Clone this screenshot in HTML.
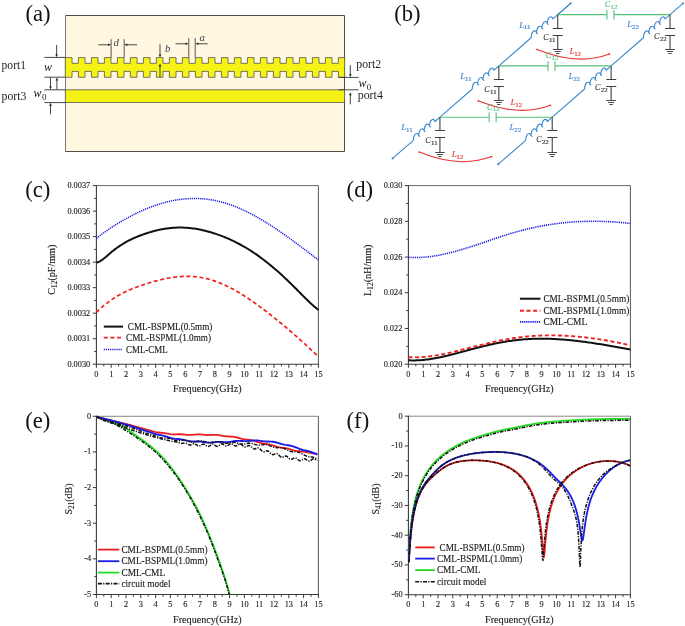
<!DOCTYPE html>
<html><head><meta charset="utf-8"><style>
html,body{margin:0;padding:0;background:#fff;}
svg{display:block;font-family:"Liberation Serif", serif;will-change:transform;}
</style></head><body>
<svg width="685" height="626" viewBox="0 0 685 626">
<rect width="685" height="626" fill="#fff"/>
<text x="25.4" y="21.4" font-size="23.4" fill="#111" textLength="25.2" lengthAdjust="spacingAndGlyphs">(a)</text>
<rect x="65.5" y="15.5" width="279" height="136" fill="#fff7e0" stroke="none"/>
<path d="M65.5,15.5 H344.5 V151.5 H65.5" fill="none" stroke="#4c4c48" stroke-width="1"/>
<path d="M65.5,15.5 V151.5" fill="none" stroke="#7a7a74" stroke-width="1"/>
<path d="M65.3,57.6 H72 V63.3 H78.4 V57.6 H85 V63.3 H91.4 V57.6 H98 V63.3 H104.4 V57.6 H111 V63.3 H117.4 V57.6 H124 V63.3 H130.4 V57.6 H137 V63.3 H143.4 V57.6 H150 V63.3 H156.4 V57.6 H163 V63.3 H169.4 V57.6 H176 V63.3 H182.4 V57.6 H189 V63.3 H195.4 V57.6 H202 V63.3 H208.4 V57.6 H215 V63.3 H221.4 V57.6 H228 V63.3 H234.4 V57.6 H241 V63.3 H247.4 V57.6 H254 V63.3 H260.4 V57.6 H267 V63.3 H273.4 V57.6 H280 V63.3 H286.4 V57.6 H293 V63.3 H299.4 V57.6 H306 V63.3 H312.4 V57.6 H319 V63.3 H325.4 V57.6 H332 V63.3 H338.4 V57.6 H344.7 V77.3 H338.4 V71.4 H332 V77.3 H325.4 V71.4 H319 V77.3 H312.4 V71.4 H306 V77.3 H299.4 V71.4 H293 V77.3 H286.4 V71.4 H280 V77.3 H273.4 V71.4 H267 V77.3 H260.4 V71.4 H254 V77.3 H247.4 V71.4 H241 V77.3 H234.4 V71.4 H228 V77.3 H221.4 V71.4 H215 V77.3 H208.4 V71.4 H202 V77.3 H195.4 V71.4 H189 V77.3 H182.4 V71.4 H176 V77.3 H169.4 V71.4 H163 V77.3 H156.4 V71.4 H150 V77.3 H143.4 V71.4 H137 V77.3 H130.4 V71.4 H124 V77.3 H117.4 V71.4 H111 V77.3 H104.4 V71.4 H98 V77.3 H91.4 V71.4 H85 V77.3 H78.4 V71.4 H72 V77.3 H65.3 Z" fill="#f6f216" stroke="#555" stroke-width="0.8"/>
<rect x="65.3" y="89.8" width="279.4" height="12.8" fill="#f6f216" stroke="#555" stroke-width="0.8"/>
<path d="M44.4,57.4 H65.3 M44.4,77.2 H65.3 M44.4,89.8 H65.3 M44.4,102.6 H65.3" stroke="#333" stroke-width="0.9" fill="none"/>
<path d="M338.4,77.4 H358.7 M338.4,89.8 H358.7" stroke="#333" stroke-width="0.9" fill="none"/>
<path d="M56.6,45 V55" stroke="#333" stroke-width="0.9" fill="none"/>
<path d="M55.3,54.2 L57.9,54.2 L56.6,57.2 Z" fill="#222"/>
<path d="M50.5,77.4 V87.3" stroke="#333" stroke-width="0.9" fill="none"/>
<path d="M49.2,86.5 L51.8,86.5 L50.5,89.5 Z" fill="#222"/>
<path d="M56.9,89.5 V79.7" stroke="#333" stroke-width="0.9" fill="none"/>
<path d="M55.6,80.5 L58.2,80.5 L56.9,77.5 Z" fill="#222"/>
<path d="M50.5,114.4 V105" stroke="#333" stroke-width="0.9" fill="none"/>
<path d="M49.2,105.8 L51.8,105.8 L50.5,102.8 Z" fill="#222"/>
<path d="M350.3,65.1 V75" stroke="#333" stroke-width="0.9" fill="none"/>
<path d="M349,74.2 L351.6,74.2 L350.3,77.2 Z" fill="#222"/>
<path d="M350.3,104.4 V94.5" stroke="#333" stroke-width="0.9" fill="none"/>
<path d="M349,95.3 L351.6,95.3 L350.3,92.3 Z" fill="#222"/>
<path d="M111.1,39.2 V57.6 M124.2,39.2 V57.6 M188.8,38.1 V57.6 M195.2,38.1 V57.6" stroke="#444" stroke-width="0.9" fill="none"/>
<path d="M98.3,44.8 H108.8" stroke="#333" stroke-width="0.9" fill="none"/>
<path d="M108,43.5 L108,46.1 L111,44.8 Z" fill="#222"/>
<path d="M137,44.8 H126.5" stroke="#333" stroke-width="0.9" fill="none"/>
<path d="M127.3,43.5 L127.3,46.1 L124.3,44.8 Z" fill="#222"/>
<path d="M175.6,43.8 H186.5" stroke="#333" stroke-width="0.9" fill="none"/>
<path d="M185.7,42.5 L185.7,45.1 L188.7,43.8 Z" fill="#222"/>
<path d="M207.7,43.8 H197.5" stroke="#333" stroke-width="0.9" fill="none"/>
<path d="M198.3,42.5 L198.3,45.1 L195.3,43.8 Z" fill="#222"/>
<path d="M160,44.3 V55.4" stroke="#333" stroke-width="0.9" fill="none"/>
<path d="M158.7,54.6 L161.3,54.6 L160,57.6 Z" fill="#222"/>
<path d="M160,77.2 V65.6" stroke="#333" stroke-width="0.9" fill="none"/>
<path d="M158.7,66.4 L161.3,66.4 L160,63.4 Z" fill="#222"/>
<text x="113.5" y="45.6" font-size="10.8" text-anchor="start" fill="#36405a" font-style="italic" style="">d</text>
<text x="165" y="51.8" font-size="10.8" text-anchor="start" fill="#36405a" font-style="italic" style="">b</text>
<text x="199.6" y="40.9" font-size="10.8" text-anchor="start" fill="#36405a" font-style="italic" style="">a</text>
<text x="1.6" y="69.4" font-size="12.6" text-anchor="start" fill="#1e1e1e" textLength="24.4" lengthAdjust="spacingAndGlyphs"  style="">port1</text>
<text x="1.6" y="99.8" font-size="12.6" text-anchor="start" fill="#1e1e1e" textLength="24.8" lengthAdjust="spacingAndGlyphs"  style="">port3</text>
<text x="356.3" y="68.3" font-size="12.6" text-anchor="start" fill="#1e1e1e" textLength="24.8" lengthAdjust="spacingAndGlyphs"  style="">port2</text>
<text x="357.7" y="98.7" font-size="12.6" text-anchor="start" fill="#1e1e1e" textLength="25.2" lengthAdjust="spacingAndGlyphs"  style="">port4</text>
<text x="44.0" y="71.0" font-size="12" font-style="italic" fill="#222" textLength="8.0" lengthAdjust="spacingAndGlyphs">w</text>
<text x="33.6" y="97.0" font-size="12" font-style="italic" fill="#222">w<tspan font-size="9" font-style="normal" dx="0.3" dy="2.6">0</tspan></text>
<text x="358.4" y="87.2" font-size="12" font-style="italic" fill="#222">w<tspan font-size="9" font-style="normal" dx="0.3" dy="2.4">0</tspan></text>
<text x="394.3" y="21.4" font-size="23.4" fill="#111" textLength="26.3" lengthAdjust="spacingAndGlyphs">(b)</text>
<path d="M570.7,3.3 L557.73,14.6" stroke="#3b87cf" stroke-width="1.1" fill="none"/>
<path d="M570.7,3.3 L557.73,14.6 M557.73,14.6 L552.75,18.93 C551.85,14.93 547.46,16.63 547.36,23.63 l0.8,0.7 l-0.8,-0.7 C546.46,19.63 542.07,21.33 541.97,28.33 l0.8,0.7 l-0.8,-0.7 C541.07,24.33 536.67,26.02 536.57,33.02 l0.8,0.7 l-0.8,-0.7 C535.67,29.02 531.28,30.72 531.18,37.72 M531.18,37.72 L498.83,65.9 M498.83,65.9 L493.85,70.23 C492.95,66.23 488.56,67.93 488.46,74.93 l0.8,0.7 l-0.8,-0.7 C487.56,70.93 483.17,72.63 483.07,79.63 l0.8,0.7 l-0.8,-0.7 C482.17,75.63 477.78,77.32 477.68,84.32 l0.8,0.7 l-0.8,-0.7 C476.78,80.32 472.39,82.02 472.29,89.02 M472.29,89.02 L439.93,117.2 M439.93,117.2 L434.95,121.53 C434.05,117.53 429.66,119.23 429.56,126.23 l0.8,0.7 l-0.8,-0.7 C428.66,122.23 424.27,123.93 424.17,130.93 l0.8,0.7 l-0.8,-0.7 C423.27,126.93 418.88,128.62 418.78,135.62 l0.8,0.7 l-0.8,-0.7 C417.88,131.62 413.49,133.32 413.39,140.32 M413.39,140.32 L392.63,158.4" stroke="#3b87cf" stroke-width="1.1" fill="none" stroke-linejoin="round"/>
<circle cx="570.7" cy="3.3" r="1.1" fill="#3b87cf"/><circle cx="392.63" cy="158.4" r="1.1" fill="#3b87cf"/>
<path d="M683,3.3 L670.03,14.6 M670.03,14.6 L665.05,18.93 C664.15,14.93 659.76,16.63 659.66,23.63 l0.8,0.7 l-0.8,-0.7 C658.76,19.63 654.37,21.33 654.27,28.33 l0.8,0.7 l-0.8,-0.7 C653.37,24.33 648.97,26.02 648.87,33.02 l0.8,0.7 l-0.8,-0.7 C647.97,29.02 643.58,30.72 643.48,37.72 M643.48,37.72 L611.13,65.9 M611.13,65.9 L606.15,70.23 C605.25,66.23 600.86,67.93 600.76,74.93 l0.8,0.7 l-0.8,-0.7 C599.86,70.93 595.47,72.63 595.37,79.63 l0.8,0.7 l-0.8,-0.7 C594.47,75.63 590.08,77.32 589.98,84.32 l0.8,0.7 l-0.8,-0.7 C589.08,80.32 584.69,82.02 584.59,89.02 M584.59,89.02 L552.23,117.2 M552.23,117.2 L547.25,121.53 C546.35,117.53 541.96,119.23 541.86,126.23 l0.8,0.7 l-0.8,-0.7 C540.96,122.23 536.57,123.93 536.47,130.93 l0.8,0.7 l-0.8,-0.7 C535.57,126.93 531.18,128.62 531.08,135.62 l0.8,0.7 l-0.8,-0.7 C530.18,131.62 525.79,133.32 525.69,140.32 M525.69,140.32 L498.27,164.2" stroke="#3b87cf" stroke-width="1.1" fill="none" stroke-linejoin="round"/>
<circle cx="683" cy="3.3" r="1.1" fill="#3b87cf"/><circle cx="498.27" cy="164.2" r="1.1" fill="#3b87cf"/>
<path d="M557.73,14.6 H606.93 M613.93,14.6 H670.03 M606.93,10 V19.6 M613.93,10 V19.6" stroke="#55c27a" stroke-width="1.1" fill="none"/>
<path d="M557.73,14.6 V28.5 M552.83,28.5 H562.83 M552.83,35.5 H562.83 M557.73,35.5 V49.5" stroke="#404040" stroke-width="1.1" fill="none"/>
<path d="M552.93,49.5 H562.53 M554.73,51.5 H560.73 M556.03,53.5 H559.43" stroke="#333" stroke-width="0.9" fill="none"/>
<path d="M670.03,14.6 V28.5 M665.13,28.5 H675.13 M665.13,35.5 H675.13 M670.03,35.5 V49.5" stroke="#404040" stroke-width="1.1" fill="none"/>
<path d="M665.23,49.5 H674.83 M667.03,51.5 H673.03 M668.33,53.5 H671.73" stroke="#333" stroke-width="0.9" fill="none"/>
<path d="M537.13,49.5 Q577.73,66.1 609.33,54" stroke="#e83530" stroke-width="1.1" fill="none"/>
<circle cx="537.13" cy="49.5" r="0.9" fill="#e83530"/><circle cx="609.33" cy="54" r="0.9" fill="#e83530"/>
<text x="519.13" y="27.5" font-size="9.0" font-style="italic" fill="#3b87cf" stroke="#3b87cf" stroke-width="0.1">L<tspan font-size="6.9" font-style="normal" dx="-0.3" dy="1.9" stroke-width="0.18">11</tspan></text>
<text x="543.13" y="40.3" font-size="8.2" font-style="italic" fill="#333" stroke="#333" stroke-width="0.1">C<tspan font-size="6.9" font-style="normal" dx="0.3" dy="1.9" stroke-width="0.18">11</tspan></text>
<text x="604.73" y="6.9" font-size="8.2" font-style="italic" fill="#55c27a" stroke="#55c27a" stroke-width="0.1">C<tspan font-size="6.9" font-style="normal" dx="0.3" dy="1.9" stroke-width="0.18">12</tspan></text>
<text x="569.43" y="54" font-size="9.0" font-style="italic" fill="#e83530" stroke="#e83530" stroke-width="0.1">L<tspan font-size="6.9" font-style="normal" dx="-0.3" dy="1.9" stroke-width="0.18">12</tspan></text>
<text x="627.33" y="27.4" font-size="9.0" font-style="italic" fill="#3b87cf" stroke="#3b87cf" stroke-width="0.1">L<tspan font-size="6.9" font-style="normal" dx="-0.3" dy="1.9" stroke-width="0.18">22</tspan></text>
<text x="653.93" y="39.1" font-size="8.2" font-style="italic" fill="#333" stroke="#333" stroke-width="0.1">C<tspan font-size="6.9" font-style="normal" dx="0.3" dy="1.9" stroke-width="0.18">22</tspan></text>
<path d="M498.83,65.9 H548.03 M555.03,65.9 H611.13 M548.03,61.3 V70.9 M555.03,61.3 V70.9" stroke="#55c27a" stroke-width="1.1" fill="none"/>
<path d="M498.83,65.9 V79.5 M493.93,79.5 H503.93 M493.93,86.5 H503.93 M498.83,86.5 V100.5" stroke="#404040" stroke-width="1.1" fill="none"/>
<path d="M494.03,100.5 H503.63 M495.83,102.5 H501.83 M497.13,104.5 H500.53" stroke="#333" stroke-width="0.9" fill="none"/>
<path d="M611.13,65.9 V79.5 M606.23,79.5 H616.23 M606.23,86.5 H616.23 M611.13,86.5 V100.5" stroke="#404040" stroke-width="1.1" fill="none"/>
<path d="M606.33,100.5 H615.93 M608.13,102.5 H614.13 M609.43,104.5 H612.83" stroke="#333" stroke-width="0.9" fill="none"/>
<path d="M478.23,100.8 Q518.83,117.4 550.43,105.3" stroke="#e83530" stroke-width="1.1" fill="none"/>
<circle cx="478.23" cy="100.8" r="0.9" fill="#e83530"/><circle cx="550.43" cy="105.3" r="0.9" fill="#e83530"/>
<text x="460.23" y="78.8" font-size="9.0" font-style="italic" fill="#3b87cf" stroke="#3b87cf" stroke-width="0.1">L<tspan font-size="6.9" font-style="normal" dx="-0.3" dy="1.9" stroke-width="0.18">11</tspan></text>
<text x="484.23" y="91.6" font-size="8.2" font-style="italic" fill="#333" stroke="#333" stroke-width="0.1">C<tspan font-size="6.9" font-style="normal" dx="0.3" dy="1.9" stroke-width="0.18">11</tspan></text>
<text x="545.83" y="58.2" font-size="8.2" font-style="italic" fill="#55c27a" stroke="#55c27a" stroke-width="0.1">C<tspan font-size="6.9" font-style="normal" dx="0.3" dy="1.9" stroke-width="0.18">12</tspan></text>
<text x="510.53" y="105.3" font-size="9.0" font-style="italic" fill="#e83530" stroke="#e83530" stroke-width="0.1">L<tspan font-size="6.9" font-style="normal" dx="-0.3" dy="1.9" stroke-width="0.18">12</tspan></text>
<text x="568.43" y="78.7" font-size="9.0" font-style="italic" fill="#3b87cf" stroke="#3b87cf" stroke-width="0.1">L<tspan font-size="6.9" font-style="normal" dx="-0.3" dy="1.9" stroke-width="0.18">22</tspan></text>
<text x="595.03" y="90.4" font-size="8.2" font-style="italic" fill="#333" stroke="#333" stroke-width="0.1">C<tspan font-size="6.9" font-style="normal" dx="0.3" dy="1.9" stroke-width="0.18">22</tspan></text>
<path d="M439.93,117.2 H489.13 M496.13,117.2 H552.23 M489.13,112.6 V122.2 M496.13,112.6 V122.2" stroke="#55c27a" stroke-width="1.1" fill="none"/>
<path d="M439.93,117.2 V130.5 M435.03,130.5 H445.03 M435.03,137.5 H445.03 M439.93,137.5 V152.5" stroke="#404040" stroke-width="1.1" fill="none"/>
<path d="M435.13,152.5 H444.73 M436.93,154.5 H442.93 M438.23,156.5 H441.63" stroke="#333" stroke-width="0.9" fill="none"/>
<path d="M552.23,117.2 V130.5 M547.33,130.5 H557.33 M547.33,137.5 H557.33 M552.23,137.5 V152.5" stroke="#404040" stroke-width="1.1" fill="none"/>
<path d="M547.43,152.5 H557.03 M549.23,154.5 H555.23 M550.53,156.5 H553.93" stroke="#333" stroke-width="0.9" fill="none"/>
<path d="M419.33,152.1 Q459.93,168.7 491.53,156.6" stroke="#e83530" stroke-width="1.1" fill="none"/>
<circle cx="419.33" cy="152.1" r="0.9" fill="#e83530"/><circle cx="491.53" cy="156.6" r="0.9" fill="#e83530"/>
<text x="401.33" y="130.1" font-size="9.0" font-style="italic" fill="#3b87cf" stroke="#3b87cf" stroke-width="0.1">L<tspan font-size="6.9" font-style="normal" dx="-0.3" dy="1.9" stroke-width="0.18">11</tspan></text>
<text x="425.33" y="142.9" font-size="8.2" font-style="italic" fill="#333" stroke="#333" stroke-width="0.1">C<tspan font-size="6.9" font-style="normal" dx="0.3" dy="1.9" stroke-width="0.18">11</tspan></text>
<text x="486.93" y="109.5" font-size="8.2" font-style="italic" fill="#55c27a" stroke="#55c27a" stroke-width="0.1">C<tspan font-size="6.9" font-style="normal" dx="0.3" dy="1.9" stroke-width="0.18">12</tspan></text>
<text x="451.63" y="156.6" font-size="9.0" font-style="italic" fill="#e83530" stroke="#e83530" stroke-width="0.1">L<tspan font-size="6.9" font-style="normal" dx="-0.3" dy="1.9" stroke-width="0.18">12</tspan></text>
<text x="509.53" y="130" font-size="9.0" font-style="italic" fill="#3b87cf" stroke="#3b87cf" stroke-width="0.1">L<tspan font-size="6.9" font-style="normal" dx="-0.3" dy="1.9" stroke-width="0.18">22</tspan></text>
<text x="536.13" y="141.7" font-size="8.2" font-style="italic" fill="#333" stroke="#333" stroke-width="0.1">C<tspan font-size="6.9" font-style="normal" dx="0.3" dy="1.9" stroke-width="0.18">22</tspan></text>
<text x="25.2" y="196.8" font-size="23.4" fill="#111" textLength="25.2" lengthAdjust="spacingAndGlyphs">(c)</text>
<text x="346.6" y="196.8" font-size="23.4" fill="#111" textLength="26.4" lengthAdjust="spacingAndGlyphs">(d)</text>
<text x="25.2" y="427.6" font-size="23.4" fill="#111" textLength="25.2" lengthAdjust="spacingAndGlyphs">(e)</text>
<text x="346.6" y="427.6" font-size="23.4" fill="#111" textLength="22.6" lengthAdjust="spacingAndGlyphs">(f)</text>
<path d="M96.4,364.2 V367.8 M111.2,364.2 V367.8 M126,364.2 V367.8 M140.8,364.2 V367.8 M155.6,364.2 V367.8 M170.4,364.2 V367.8 M185.2,364.2 V367.8 M200,364.2 V367.8 M214.8,364.2 V367.8 M229.6,364.2 V367.8 M244.4,364.2 V367.8 M259.2,364.2 V367.8 M274,364.2 V367.8 M288.8,364.2 V367.8 M303.6,364.2 V367.8 M318.4,364.2 V367.8 M103.8,364.2 V366.4 M118.6,364.2 V366.4 M133.4,364.2 V366.4 M148.2,364.2 V366.4 M163,364.2 V366.4 M177.8,364.2 V366.4 M192.6,364.2 V366.4 M207.4,364.2 V366.4 M222.2,364.2 V366.4 M237,364.2 V366.4 M251.8,364.2 V366.4 M266.6,364.2 V366.4 M281.4,364.2 V366.4 M296.2,364.2 V366.4 M311,364.2 V366.4 M96.4,185.6 H92.8 M96.4,211.11 H92.8 M96.4,236.63 H92.8 M96.4,262.14 H92.8 M96.4,287.66 H92.8 M96.4,313.17 H92.8 M96.4,338.69 H92.8 M96.4,364.2 H92.8 M96.4,198.36 H94.2 M96.4,223.87 H94.2 M96.4,249.39 H94.2 M96.4,274.9 H94.2 M96.4,300.41 H94.2 M96.4,325.93 H94.2 M96.4,351.44 H94.2" stroke="#3a3a3a" stroke-width="1" fill="none"/>
<path d="M96.4,185.6 H318.4" stroke="#666" stroke-width="1"/>
<path d="M318.4,185.6 V364.2" stroke="#555" stroke-width="1"/>
<path d="M96.4,185.1 V364.7 M95.9,364.2 H318.9" stroke="#3a3a3a" stroke-width="1.1" fill="none"/>
<text x="96.4" y="376.7" font-size="9.0" text-anchor="middle" fill="#222" textLength="4.15" lengthAdjust="spacingAndGlyphs" stroke="#222" stroke-width="0.14" style="">0</text>
<text x="111.2" y="376.7" font-size="9.0" text-anchor="middle" fill="#222" textLength="4.15" lengthAdjust="spacingAndGlyphs" stroke="#222" stroke-width="0.14" style="">1</text>
<text x="126" y="376.7" font-size="9.0" text-anchor="middle" fill="#222" textLength="4.15" lengthAdjust="spacingAndGlyphs" stroke="#222" stroke-width="0.14" style="">2</text>
<text x="140.8" y="376.7" font-size="9.0" text-anchor="middle" fill="#222" textLength="4.15" lengthAdjust="spacingAndGlyphs" stroke="#222" stroke-width="0.14" style="">3</text>
<text x="155.6" y="376.7" font-size="9.0" text-anchor="middle" fill="#222" textLength="4.15" lengthAdjust="spacingAndGlyphs" stroke="#222" stroke-width="0.14" style="">4</text>
<text x="170.4" y="376.7" font-size="9.0" text-anchor="middle" fill="#222" textLength="4.15" lengthAdjust="spacingAndGlyphs" stroke="#222" stroke-width="0.14" style="">5</text>
<text x="185.2" y="376.7" font-size="9.0" text-anchor="middle" fill="#222" textLength="4.15" lengthAdjust="spacingAndGlyphs" stroke="#222" stroke-width="0.14" style="">6</text>
<text x="200" y="376.7" font-size="9.0" text-anchor="middle" fill="#222" textLength="4.15" lengthAdjust="spacingAndGlyphs" stroke="#222" stroke-width="0.14" style="">7</text>
<text x="214.8" y="376.7" font-size="9.0" text-anchor="middle" fill="#222" textLength="4.15" lengthAdjust="spacingAndGlyphs" stroke="#222" stroke-width="0.14" style="">8</text>
<text x="229.6" y="376.7" font-size="9.0" text-anchor="middle" fill="#222" textLength="4.15" lengthAdjust="spacingAndGlyphs" stroke="#222" stroke-width="0.14" style="">9</text>
<text x="244.4" y="376.7" font-size="9.0" text-anchor="middle" fill="#222" textLength="8.3" lengthAdjust="spacingAndGlyphs" stroke="#222" stroke-width="0.14" style="">10</text>
<text x="259.2" y="376.7" font-size="9.0" text-anchor="middle" fill="#222" textLength="7.992640625000001" lengthAdjust="spacingAndGlyphs" stroke="#222" stroke-width="0.14" style="">11</text>
<text x="274" y="376.7" font-size="9.0" text-anchor="middle" fill="#222" textLength="8.3" lengthAdjust="spacingAndGlyphs" stroke="#222" stroke-width="0.14" style="">12</text>
<text x="288.8" y="376.7" font-size="9.0" text-anchor="middle" fill="#222" textLength="8.3" lengthAdjust="spacingAndGlyphs" stroke="#222" stroke-width="0.14" style="">13</text>
<text x="303.6" y="376.7" font-size="9.0" text-anchor="middle" fill="#222" textLength="8.3" lengthAdjust="spacingAndGlyphs" stroke="#222" stroke-width="0.14" style="">14</text>
<text x="318.4" y="376.7" font-size="9.0" text-anchor="middle" fill="#222" textLength="8.3" lengthAdjust="spacingAndGlyphs" stroke="#222" stroke-width="0.14" style="">15</text>
<text x="90.2" y="188.1" font-size="9.0" text-anchor="end" fill="#222" textLength="22.825000000000003" lengthAdjust="spacingAndGlyphs" stroke="#222" stroke-width="0.14" style="">0.0037</text>
<text x="90.2" y="213.61" font-size="9.0" text-anchor="end" fill="#222" textLength="22.825000000000003" lengthAdjust="spacingAndGlyphs" stroke="#222" stroke-width="0.14" style="">0.0036</text>
<text x="90.2" y="239.13" font-size="9.0" text-anchor="end" fill="#222" textLength="22.825000000000003" lengthAdjust="spacingAndGlyphs" stroke="#222" stroke-width="0.14" style="">0.0035</text>
<text x="90.2" y="264.64" font-size="9.0" text-anchor="end" fill="#222" textLength="22.825000000000003" lengthAdjust="spacingAndGlyphs" stroke="#222" stroke-width="0.14" style="">0.0034</text>
<text x="90.2" y="290.16" font-size="9.0" text-anchor="end" fill="#222" textLength="22.825000000000003" lengthAdjust="spacingAndGlyphs" stroke="#222" stroke-width="0.14" style="">0.0033</text>
<text x="90.2" y="315.67" font-size="9.0" text-anchor="end" fill="#222" textLength="22.825000000000003" lengthAdjust="spacingAndGlyphs" stroke="#222" stroke-width="0.14" style="">0.0032</text>
<text x="90.2" y="341.19" font-size="9.0" text-anchor="end" fill="#222" textLength="22.825000000000003" lengthAdjust="spacingAndGlyphs" stroke="#222" stroke-width="0.14" style="">0.0031</text>
<text x="90.2" y="366.7" font-size="9.0" text-anchor="end" fill="#222" textLength="22.825000000000003" lengthAdjust="spacingAndGlyphs" stroke="#222" stroke-width="0.14" style="">0.0030</text>
<text x="207.4" y="392.4" font-size="10.4" text-anchor="middle" fill="#1a1a1a" textLength="68.7" lengthAdjust="spacingAndGlyphs" stroke="#1a1a1a" stroke-width="0.12" style="">Frequency(GHz)</text>
<text transform="translate(55.2,269.7) rotate(-90)" x="0" y="0" font-size="10.2" text-anchor="middle" fill="#1a1a1a" stroke="#1a1a1a" stroke-width="0.12" textLength="50.2" lengthAdjust="spacingAndGlyphs">C<tspan font-size="7.34" dy="2.2">12</tspan><tspan dy="-2.2">(pF/mm)</tspan></text>
<path d="M408.4,364.2 V367.8 M423.2,364.2 V367.8 M438,364.2 V367.8 M452.8,364.2 V367.8 M467.6,364.2 V367.8 M482.4,364.2 V367.8 M497.2,364.2 V367.8 M512,364.2 V367.8 M526.8,364.2 V367.8 M541.6,364.2 V367.8 M556.4,364.2 V367.8 M571.2,364.2 V367.8 M586,364.2 V367.8 M600.8,364.2 V367.8 M615.6,364.2 V367.8 M630.4,364.2 V367.8 M415.8,364.2 V366.4 M430.6,364.2 V366.4 M445.4,364.2 V366.4 M460.2,364.2 V366.4 M475,364.2 V366.4 M489.8,364.2 V366.4 M504.6,364.2 V366.4 M519.4,364.2 V366.4 M534.2,364.2 V366.4 M549,364.2 V366.4 M563.8,364.2 V366.4 M578.6,364.2 V366.4 M593.4,364.2 V366.4 M608.2,364.2 V366.4 M623,364.2 V366.4 M408.4,185.6 H404.8 M408.4,221.32 H404.8 M408.4,257.04 H404.8 M408.4,292.76 H404.8 M408.4,328.48 H404.8 M408.4,364.2 H404.8 M408.4,203.46 H406.2 M408.4,239.18 H406.2 M408.4,274.9 H406.2 M408.4,310.62 H406.2 M408.4,346.34 H406.2" stroke="#3a3a3a" stroke-width="1" fill="none"/>
<path d="M408.4,185.6 H630.4" stroke="#666" stroke-width="1"/>
<path d="M630.4,185.6 V364.2" stroke="#555" stroke-width="1"/>
<path d="M408.4,185.1 V364.7 M407.9,364.2 H630.9" stroke="#3a3a3a" stroke-width="1.1" fill="none"/>
<text x="408.4" y="376.7" font-size="9.0" text-anchor="middle" fill="#222" textLength="4.15" lengthAdjust="spacingAndGlyphs" stroke="#222" stroke-width="0.14" style="">0</text>
<text x="423.2" y="376.7" font-size="9.0" text-anchor="middle" fill="#222" textLength="4.15" lengthAdjust="spacingAndGlyphs" stroke="#222" stroke-width="0.14" style="">1</text>
<text x="438" y="376.7" font-size="9.0" text-anchor="middle" fill="#222" textLength="4.15" lengthAdjust="spacingAndGlyphs" stroke="#222" stroke-width="0.14" style="">2</text>
<text x="452.8" y="376.7" font-size="9.0" text-anchor="middle" fill="#222" textLength="4.15" lengthAdjust="spacingAndGlyphs" stroke="#222" stroke-width="0.14" style="">3</text>
<text x="467.6" y="376.7" font-size="9.0" text-anchor="middle" fill="#222" textLength="4.15" lengthAdjust="spacingAndGlyphs" stroke="#222" stroke-width="0.14" style="">4</text>
<text x="482.4" y="376.7" font-size="9.0" text-anchor="middle" fill="#222" textLength="4.15" lengthAdjust="spacingAndGlyphs" stroke="#222" stroke-width="0.14" style="">5</text>
<text x="497.2" y="376.7" font-size="9.0" text-anchor="middle" fill="#222" textLength="4.15" lengthAdjust="spacingAndGlyphs" stroke="#222" stroke-width="0.14" style="">6</text>
<text x="512" y="376.7" font-size="9.0" text-anchor="middle" fill="#222" textLength="4.15" lengthAdjust="spacingAndGlyphs" stroke="#222" stroke-width="0.14" style="">7</text>
<text x="526.8" y="376.7" font-size="9.0" text-anchor="middle" fill="#222" textLength="4.15" lengthAdjust="spacingAndGlyphs" stroke="#222" stroke-width="0.14" style="">8</text>
<text x="541.6" y="376.7" font-size="9.0" text-anchor="middle" fill="#222" textLength="4.15" lengthAdjust="spacingAndGlyphs" stroke="#222" stroke-width="0.14" style="">9</text>
<text x="556.4" y="376.7" font-size="9.0" text-anchor="middle" fill="#222" textLength="8.3" lengthAdjust="spacingAndGlyphs" stroke="#222" stroke-width="0.14" style="">10</text>
<text x="571.2" y="376.7" font-size="9.0" text-anchor="middle" fill="#222" textLength="7.992640625000001" lengthAdjust="spacingAndGlyphs" stroke="#222" stroke-width="0.14" style="">11</text>
<text x="586" y="376.7" font-size="9.0" text-anchor="middle" fill="#222" textLength="8.3" lengthAdjust="spacingAndGlyphs" stroke="#222" stroke-width="0.14" style="">12</text>
<text x="600.8" y="376.7" font-size="9.0" text-anchor="middle" fill="#222" textLength="8.3" lengthAdjust="spacingAndGlyphs" stroke="#222" stroke-width="0.14" style="">13</text>
<text x="615.6" y="376.7" font-size="9.0" text-anchor="middle" fill="#222" textLength="8.3" lengthAdjust="spacingAndGlyphs" stroke="#222" stroke-width="0.14" style="">14</text>
<text x="630.4" y="376.7" font-size="9.0" text-anchor="middle" fill="#222" textLength="8.3" lengthAdjust="spacingAndGlyphs" stroke="#222" stroke-width="0.14" style="">15</text>
<text x="402.3" y="188.1" font-size="9.0" text-anchor="end" fill="#222" textLength="18.675" lengthAdjust="spacingAndGlyphs" stroke="#222" stroke-width="0.14" style="">0.030</text>
<text x="402.3" y="223.82" font-size="9.0" text-anchor="end" fill="#222" textLength="18.675" lengthAdjust="spacingAndGlyphs" stroke="#222" stroke-width="0.14" style="">0.028</text>
<text x="402.3" y="259.54" font-size="9.0" text-anchor="end" fill="#222" textLength="18.675" lengthAdjust="spacingAndGlyphs" stroke="#222" stroke-width="0.14" style="">0.026</text>
<text x="402.3" y="295.26" font-size="9.0" text-anchor="end" fill="#222" textLength="18.675" lengthAdjust="spacingAndGlyphs" stroke="#222" stroke-width="0.14" style="">0.024</text>
<text x="402.3" y="330.98" font-size="9.0" text-anchor="end" fill="#222" textLength="18.675" lengthAdjust="spacingAndGlyphs" stroke="#222" stroke-width="0.14" style="">0.022</text>
<text x="402.3" y="366.7" font-size="9.0" text-anchor="end" fill="#222" textLength="18.675" lengthAdjust="spacingAndGlyphs" stroke="#222" stroke-width="0.14" style="">0.020</text>
<text x="519.4" y="392.4" font-size="10.4" text-anchor="middle" fill="#1a1a1a" textLength="68.7" lengthAdjust="spacingAndGlyphs" stroke="#1a1a1a" stroke-width="0.12" style="">Frequency(GHz)</text>
<text transform="translate(370.9,270.2) rotate(-90)" x="0" y="0" font-size="10.2" text-anchor="middle" fill="#1a1a1a" stroke="#1a1a1a" stroke-width="0.12" textLength="51.4" lengthAdjust="spacingAndGlyphs">L<tspan font-size="7.34" dy="2.2">12</tspan><tspan dy="-2.2">(nH/mm)</tspan></text>
<path d="M96.4,594.5 V598.1 M111.2,594.5 V598.1 M126,594.5 V598.1 M140.8,594.5 V598.1 M155.6,594.5 V598.1 M170.4,594.5 V598.1 M185.2,594.5 V598.1 M200,594.5 V598.1 M214.8,594.5 V598.1 M229.6,594.5 V598.1 M244.4,594.5 V598.1 M259.2,594.5 V598.1 M274,594.5 V598.1 M288.8,594.5 V598.1 M303.6,594.5 V598.1 M318.4,594.5 V598.1 M103.8,594.5 V596.7 M118.6,594.5 V596.7 M133.4,594.5 V596.7 M148.2,594.5 V596.7 M163,594.5 V596.7 M177.8,594.5 V596.7 M192.6,594.5 V596.7 M207.4,594.5 V596.7 M222.2,594.5 V596.7 M237,594.5 V596.7 M251.8,594.5 V596.7 M266.6,594.5 V596.7 M281.4,594.5 V596.7 M296.2,594.5 V596.7 M311,594.5 V596.7 M96.4,416.3 H92.8 M96.4,451.94 H92.8 M96.4,487.58 H92.8 M96.4,523.22 H92.8 M96.4,558.86 H92.8 M96.4,594.5 H92.8 M96.4,434.12 H94.2 M96.4,469.76 H94.2 M96.4,505.4 H94.2 M96.4,541.04 H94.2 M96.4,576.68 H94.2" stroke="#3a3a3a" stroke-width="1" fill="none"/>
<path d="M96.4,416.3 H318.4" stroke="#888" stroke-width="1"/>
<path d="M318.4,416.3 V594.5" stroke="#555" stroke-width="1"/>
<path d="M96.4,415.8 V595 M95.9,594.5 H318.9" stroke="#3a3a3a" stroke-width="1.1" fill="none"/>
<text x="96.4" y="607" font-size="9.0" text-anchor="middle" fill="#222" textLength="4.15" lengthAdjust="spacingAndGlyphs" stroke="#222" stroke-width="0.14" style="">0</text>
<text x="111.2" y="607" font-size="9.0" text-anchor="middle" fill="#222" textLength="4.15" lengthAdjust="spacingAndGlyphs" stroke="#222" stroke-width="0.14" style="">1</text>
<text x="126" y="607" font-size="9.0" text-anchor="middle" fill="#222" textLength="4.15" lengthAdjust="spacingAndGlyphs" stroke="#222" stroke-width="0.14" style="">2</text>
<text x="140.8" y="607" font-size="9.0" text-anchor="middle" fill="#222" textLength="4.15" lengthAdjust="spacingAndGlyphs" stroke="#222" stroke-width="0.14" style="">3</text>
<text x="155.6" y="607" font-size="9.0" text-anchor="middle" fill="#222" textLength="4.15" lengthAdjust="spacingAndGlyphs" stroke="#222" stroke-width="0.14" style="">4</text>
<text x="170.4" y="607" font-size="9.0" text-anchor="middle" fill="#222" textLength="4.15" lengthAdjust="spacingAndGlyphs" stroke="#222" stroke-width="0.14" style="">5</text>
<text x="185.2" y="607" font-size="9.0" text-anchor="middle" fill="#222" textLength="4.15" lengthAdjust="spacingAndGlyphs" stroke="#222" stroke-width="0.14" style="">6</text>
<text x="200" y="607" font-size="9.0" text-anchor="middle" fill="#222" textLength="4.15" lengthAdjust="spacingAndGlyphs" stroke="#222" stroke-width="0.14" style="">7</text>
<text x="214.8" y="607" font-size="9.0" text-anchor="middle" fill="#222" textLength="4.15" lengthAdjust="spacingAndGlyphs" stroke="#222" stroke-width="0.14" style="">8</text>
<text x="229.6" y="607" font-size="9.0" text-anchor="middle" fill="#222" textLength="4.15" lengthAdjust="spacingAndGlyphs" stroke="#222" stroke-width="0.14" style="">9</text>
<text x="244.4" y="607" font-size="9.0" text-anchor="middle" fill="#222" textLength="8.3" lengthAdjust="spacingAndGlyphs" stroke="#222" stroke-width="0.14" style="">10</text>
<text x="259.2" y="607" font-size="9.0" text-anchor="middle" fill="#222" textLength="7.992640625000001" lengthAdjust="spacingAndGlyphs" stroke="#222" stroke-width="0.14" style="">11</text>
<text x="274" y="607" font-size="9.0" text-anchor="middle" fill="#222" textLength="8.3" lengthAdjust="spacingAndGlyphs" stroke="#222" stroke-width="0.14" style="">12</text>
<text x="288.8" y="607" font-size="9.0" text-anchor="middle" fill="#222" textLength="8.3" lengthAdjust="spacingAndGlyphs" stroke="#222" stroke-width="0.14" style="">13</text>
<text x="303.6" y="607" font-size="9.0" text-anchor="middle" fill="#222" textLength="8.3" lengthAdjust="spacingAndGlyphs" stroke="#222" stroke-width="0.14" style="">14</text>
<text x="318.4" y="607" font-size="9.0" text-anchor="middle" fill="#222" textLength="8.3" lengthAdjust="spacingAndGlyphs" stroke="#222" stroke-width="0.14" style="">15</text>
<text x="91.2" y="418.8" font-size="9.0" text-anchor="end" fill="#222" textLength="4.15" lengthAdjust="spacingAndGlyphs" stroke="#222" stroke-width="0.14" style="">0</text>
<text x="91.2" y="454.44" font-size="9.0" text-anchor="end" fill="#222" textLength="6.913640625000001" lengthAdjust="spacingAndGlyphs" stroke="#222" stroke-width="0.14" style="">-1</text>
<text x="91.2" y="490.08" font-size="9.0" text-anchor="end" fill="#222" textLength="6.913640625000001" lengthAdjust="spacingAndGlyphs" stroke="#222" stroke-width="0.14" style="">-2</text>
<text x="91.2" y="525.72" font-size="9.0" text-anchor="end" fill="#222" textLength="6.913640625000001" lengthAdjust="spacingAndGlyphs" stroke="#222" stroke-width="0.14" style="">-3</text>
<text x="91.2" y="561.36" font-size="9.0" text-anchor="end" fill="#222" textLength="6.913640625000001" lengthAdjust="spacingAndGlyphs" stroke="#222" stroke-width="0.14" style="">-4</text>
<text x="91.2" y="597" font-size="9.0" text-anchor="end" fill="#222" textLength="6.913640625000001" lengthAdjust="spacingAndGlyphs" stroke="#222" stroke-width="0.14" style="">-5</text>
<text x="207.4" y="622.7" font-size="10.4" text-anchor="middle" fill="#1a1a1a" textLength="68.7" lengthAdjust="spacingAndGlyphs" stroke="#1a1a1a" stroke-width="0.12" style="">Frequency(GHz)</text>
<text transform="translate(71.7,499) rotate(-90)" x="0" y="0" font-size="10.2" text-anchor="middle" fill="#1a1a1a" stroke="#1a1a1a" stroke-width="0.12" textLength="30.9" lengthAdjust="spacingAndGlyphs">S<tspan font-size="7.34" dy="2.2">21</tspan><tspan dy="-2.2">(dB)</tspan></text>
<path d="M408.4,594.7 V598.3 M423.2,594.7 V598.3 M438,594.7 V598.3 M452.8,594.7 V598.3 M467.6,594.7 V598.3 M482.4,594.7 V598.3 M497.2,594.7 V598.3 M512,594.7 V598.3 M526.8,594.7 V598.3 M541.6,594.7 V598.3 M556.4,594.7 V598.3 M571.2,594.7 V598.3 M586,594.7 V598.3 M600.8,594.7 V598.3 M615.6,594.7 V598.3 M630.4,594.7 V598.3 M415.8,594.7 V596.9 M430.6,594.7 V596.9 M445.4,594.7 V596.9 M460.2,594.7 V596.9 M475,594.7 V596.9 M489.8,594.7 V596.9 M504.6,594.7 V596.9 M519.4,594.7 V596.9 M534.2,594.7 V596.9 M549,594.7 V596.9 M563.8,594.7 V596.9 M578.6,594.7 V596.9 M593.4,594.7 V596.9 M608.2,594.7 V596.9 M623,594.7 V596.9 M408.4,416.2 H404.8 M408.4,445.95 H404.8 M408.4,475.7 H404.8 M408.4,505.45 H404.8 M408.4,535.2 H404.8 M408.4,564.95 H404.8 M408.4,594.7 H404.8 M408.4,431.07 H406.2 M408.4,460.82 H406.2 M408.4,490.57 H406.2 M408.4,520.33 H406.2 M408.4,550.08 H406.2 M408.4,579.83 H406.2" stroke="#3a3a3a" stroke-width="1" fill="none"/>
<path d="M408.4,416.2 H630.4" stroke="#888" stroke-width="1"/>
<path d="M630.4,416.2 V594.7" stroke="#555" stroke-width="1"/>
<path d="M408.4,415.7 V595.2 M407.9,594.7 H630.9" stroke="#3a3a3a" stroke-width="1.1" fill="none"/>
<text x="408.4" y="607.2" font-size="9.0" text-anchor="middle" fill="#222" textLength="4.15" lengthAdjust="spacingAndGlyphs" stroke="#222" stroke-width="0.14" style="">0</text>
<text x="423.2" y="607.2" font-size="9.0" text-anchor="middle" fill="#222" textLength="4.15" lengthAdjust="spacingAndGlyphs" stroke="#222" stroke-width="0.14" style="">1</text>
<text x="438" y="607.2" font-size="9.0" text-anchor="middle" fill="#222" textLength="4.15" lengthAdjust="spacingAndGlyphs" stroke="#222" stroke-width="0.14" style="">2</text>
<text x="452.8" y="607.2" font-size="9.0" text-anchor="middle" fill="#222" textLength="4.15" lengthAdjust="spacingAndGlyphs" stroke="#222" stroke-width="0.14" style="">3</text>
<text x="467.6" y="607.2" font-size="9.0" text-anchor="middle" fill="#222" textLength="4.15" lengthAdjust="spacingAndGlyphs" stroke="#222" stroke-width="0.14" style="">4</text>
<text x="482.4" y="607.2" font-size="9.0" text-anchor="middle" fill="#222" textLength="4.15" lengthAdjust="spacingAndGlyphs" stroke="#222" stroke-width="0.14" style="">5</text>
<text x="497.2" y="607.2" font-size="9.0" text-anchor="middle" fill="#222" textLength="4.15" lengthAdjust="spacingAndGlyphs" stroke="#222" stroke-width="0.14" style="">6</text>
<text x="512" y="607.2" font-size="9.0" text-anchor="middle" fill="#222" textLength="4.15" lengthAdjust="spacingAndGlyphs" stroke="#222" stroke-width="0.14" style="">7</text>
<text x="526.8" y="607.2" font-size="9.0" text-anchor="middle" fill="#222" textLength="4.15" lengthAdjust="spacingAndGlyphs" stroke="#222" stroke-width="0.14" style="">8</text>
<text x="541.6" y="607.2" font-size="9.0" text-anchor="middle" fill="#222" textLength="4.15" lengthAdjust="spacingAndGlyphs" stroke="#222" stroke-width="0.14" style="">9</text>
<text x="556.4" y="607.2" font-size="9.0" text-anchor="middle" fill="#222" textLength="8.3" lengthAdjust="spacingAndGlyphs" stroke="#222" stroke-width="0.14" style="">10</text>
<text x="571.2" y="607.2" font-size="9.0" text-anchor="middle" fill="#222" textLength="7.992640625000001" lengthAdjust="spacingAndGlyphs" stroke="#222" stroke-width="0.14" style="">11</text>
<text x="586" y="607.2" font-size="9.0" text-anchor="middle" fill="#222" textLength="8.3" lengthAdjust="spacingAndGlyphs" stroke="#222" stroke-width="0.14" style="">12</text>
<text x="600.8" y="607.2" font-size="9.0" text-anchor="middle" fill="#222" textLength="8.3" lengthAdjust="spacingAndGlyphs" stroke="#222" stroke-width="0.14" style="">13</text>
<text x="615.6" y="607.2" font-size="9.0" text-anchor="middle" fill="#222" textLength="8.3" lengthAdjust="spacingAndGlyphs" stroke="#222" stroke-width="0.14" style="">14</text>
<text x="630.4" y="607.2" font-size="9.0" text-anchor="middle" fill="#222" textLength="8.3" lengthAdjust="spacingAndGlyphs" stroke="#222" stroke-width="0.14" style="">15</text>
<text x="402.6" y="418.7" font-size="9.0" text-anchor="end" fill="#222" textLength="4.15" lengthAdjust="spacingAndGlyphs" stroke="#222" stroke-width="0.14" style="">0</text>
<text x="402.6" y="448.45" font-size="9.0" text-anchor="end" fill="#222" textLength="11.063640625000001" lengthAdjust="spacingAndGlyphs" stroke="#222" stroke-width="0.14" style="">-10</text>
<text x="402.6" y="478.2" font-size="9.0" text-anchor="end" fill="#222" textLength="11.063640625000001" lengthAdjust="spacingAndGlyphs" stroke="#222" stroke-width="0.14" style="">-20</text>
<text x="402.6" y="507.95" font-size="9.0" text-anchor="end" fill="#222" textLength="11.063640625000001" lengthAdjust="spacingAndGlyphs" stroke="#222" stroke-width="0.14" style="">-30</text>
<text x="402.6" y="537.7" font-size="9.0" text-anchor="end" fill="#222" textLength="11.063640625000001" lengthAdjust="spacingAndGlyphs" stroke="#222" stroke-width="0.14" style="">-40</text>
<text x="402.6" y="567.45" font-size="9.0" text-anchor="end" fill="#222" textLength="11.063640625000001" lengthAdjust="spacingAndGlyphs" stroke="#222" stroke-width="0.14" style="">-50</text>
<text x="402.6" y="597.2" font-size="9.0" text-anchor="end" fill="#222" textLength="11.063640625000001" lengthAdjust="spacingAndGlyphs" stroke="#222" stroke-width="0.14" style="">-60</text>
<text x="519.4" y="622.9" font-size="10.4" text-anchor="middle" fill="#1a1a1a" textLength="68.7" lengthAdjust="spacingAndGlyphs" stroke="#1a1a1a" stroke-width="0.12" style="">Frequency(GHz)</text>
<text transform="translate(378.8,499) rotate(-90)" x="0" y="0" font-size="10.2" text-anchor="middle" fill="#1a1a1a" stroke="#1a1a1a" stroke-width="0.12" textLength="30.9" lengthAdjust="spacingAndGlyphs">S<tspan font-size="7.34" dy="2.2">41</tspan><tspan dy="-2.2">(dB)</tspan></text>
<path d="M96.4,238.33 L97.8,237.24 L99.19,236.16 L100.59,235.1 L101.98,234.07 L103.38,233.04 L104.78,232.04 L106.17,231.05 L107.57,230.08 L108.97,229.13 L110.36,228.19 L111.76,227.27 L113.15,226.36 L114.55,225.47 L115.95,224.59 L117.34,223.73 L118.74,222.88 L120.14,222.04 L121.53,221.22 L122.93,220.42 L124.32,219.62 L125.72,218.84 L127.12,218.07 L128.51,217.31 L129.91,216.57 L131.31,215.84 L132.7,215.12 L134.1,214.41 L135.49,213.72 L136.89,213.04 L138.29,212.37 L139.68,211.72 L141.08,211.08 L142.48,210.46 L143.87,209.85 L145.27,209.25 L146.66,208.67 L148.06,208.1 L149.46,207.55 L150.85,207.02 L152.25,206.49 L153.65,205.99 L155.04,205.5 L156.44,205.02 L157.83,204.56 L159.23,204.12 L160.63,203.69 L162.02,203.28 L163.42,202.88 L164.82,202.5 L166.21,202.14 L167.61,201.8 L169,201.47 L170.4,201.16 L171.8,200.86 L173.19,200.58 L174.59,200.32 L175.98,200.08 L177.38,199.85 L178.78,199.64 L180.17,199.45 L181.57,199.27 L182.97,199.12 L184.36,198.98 L185.76,198.85 L187.15,198.75 L188.55,198.66 L189.95,198.6 L191.34,198.55 L192.74,198.51 L194.14,198.5 L195.53,198.5 L196.93,198.53 L198.32,198.57 L199.72,198.63 L201.12,198.7 L202.51,198.8 L203.91,198.92 L205.31,199.05 L206.7,199.2 L208.1,199.38 L209.49,199.57 L210.89,199.78 L212.29,200.01 L213.68,200.26 L215.08,200.53 L216.48,200.82 L217.87,201.12 L219.27,201.45 L220.66,201.8 L222.06,202.17 L223.46,202.55 L224.85,202.96 L226.25,203.39 L227.65,203.83 L229.04,204.3 L230.44,204.78 L231.83,205.28 L233.23,205.8 L234.63,206.33 L236.02,206.89 L237.42,207.46 L238.82,208.04 L240.21,208.65 L241.61,209.27 L243,209.9 L244.4,210.56 L245.8,211.22 L247.19,211.9 L248.59,212.6 L249.98,213.31 L251.38,214.04 L252.78,214.78 L254.17,215.53 L255.57,216.3 L256.97,217.08 L258.36,217.87 L259.76,218.67 L261.15,219.49 L262.55,220.32 L263.95,221.16 L265.34,222.01 L266.74,222.88 L268.14,223.75 L269.53,224.63 L270.93,225.53 L272.32,226.44 L273.72,227.35 L275.12,228.27 L276.51,229.21 L277.91,230.15 L279.31,231.1 L280.7,232.06 L282.1,233.03 L283.49,234 L284.89,234.98 L286.29,235.97 L287.68,236.97 L289.08,237.97 L290.48,238.98 L291.87,240 L293.27,241.02 L294.66,242.05 L296.06,243.08 L297.46,244.11 L298.85,245.16 L300.25,246.2 L301.65,247.25 L303.04,248.3 L304.44,249.36 L305.83,250.42 L307.23,251.48 L308.63,252.55 L310.02,253.62 L311.42,254.69 L312.82,255.76 L314.21,256.83 L315.61,257.91 L317,258.98 L318.4,260.06" stroke="#1a1ae6" stroke-width="1.5" fill="none" stroke-dasharray="1.2,0.9"/>
<path d="M96.4,262.62 L97.8,262.22 L99.19,261.63 L100.59,260.86 L101.98,259.96 L103.38,258.94 L104.78,257.83 L106.17,256.66 L107.57,255.46 L108.97,254.24 L110.36,253.03 L111.76,251.85 L113.15,250.71 L114.55,249.62 L115.95,248.56 L117.34,247.55 L118.74,246.57 L120.14,245.63 L121.53,244.73 L122.93,243.86 L124.32,243.03 L125.72,242.23 L127.12,241.45 L128.51,240.71 L129.91,240 L131.31,239.32 L132.7,238.66 L134.1,238.02 L135.49,237.41 L136.89,236.83 L138.29,236.26 L139.68,235.72 L141.08,235.19 L142.48,234.68 L143.87,234.19 L145.27,233.71 L146.66,233.25 L148.06,232.8 L149.46,232.37 L150.85,231.96 L152.25,231.56 L153.65,231.18 L155.04,230.82 L156.44,230.48 L157.83,230.15 L159.23,229.84 L160.63,229.55 L162.02,229.28 L163.42,229.03 L164.82,228.8 L166.21,228.58 L167.61,228.39 L169,228.21 L170.4,228.06 L171.8,227.93 L173.19,227.81 L174.59,227.72 L175.98,227.65 L177.38,227.6 L178.78,227.57 L180.17,227.56 L181.57,227.57 L182.97,227.61 L184.36,227.66 L185.76,227.74 L187.15,227.83 L188.55,227.95 L189.95,228.08 L191.34,228.24 L192.74,228.41 L194.14,228.6 L195.53,228.82 L196.93,229.05 L198.32,229.3 L199.72,229.56 L201.12,229.85 L202.51,230.15 L203.91,230.47 L205.31,230.81 L206.7,231.16 L208.1,231.54 L209.49,231.92 L210.89,232.33 L212.29,232.75 L213.68,233.19 L215.08,233.64 L216.48,234.11 L217.87,234.6 L219.27,235.1 L220.66,235.61 L222.06,236.14 L223.46,236.69 L224.85,237.25 L226.25,237.83 L227.65,238.42 L229.04,239.03 L230.44,239.65 L231.83,240.29 L233.23,240.95 L234.63,241.63 L236.02,242.32 L237.42,243.03 L238.82,243.76 L240.21,244.5 L241.61,245.27 L243,246.05 L244.4,246.85 L245.8,247.67 L247.19,248.51 L248.59,249.36 L249.98,250.24 L251.38,251.14 L252.78,252.05 L254.17,252.99 L255.57,253.94 L256.97,254.91 L258.36,255.9 L259.76,256.91 L261.15,257.94 L262.55,258.98 L263.95,260.04 L265.34,261.12 L266.74,262.22 L268.14,263.33 L269.53,264.46 L270.93,265.61 L272.32,266.77 L273.72,267.95 L275.12,269.14 L276.51,270.35 L277.91,271.58 L279.31,272.82 L280.7,274.08 L282.1,275.35 L283.49,276.63 L284.89,277.93 L286.29,279.25 L287.68,280.58 L289.08,281.92 L290.48,283.28 L291.87,284.65 L293.27,286.03 L294.66,287.43 L296.06,288.83 L297.46,290.24 L298.85,291.65 L300.25,293.07 L301.65,294.47 L303.04,295.88 L304.44,297.27 L305.83,298.64 L307.23,300 L308.63,301.34 L310.02,302.66 L311.42,303.95 L312.82,305.2 L314.21,306.43 L315.61,307.62 L317,308.77 L318.4,309.87" stroke="#111" stroke-width="2" fill="none"/>
<path d="M96.4,312.41 L97.8,311.03 L99.19,309.69 L100.59,308.4 L101.98,307.16 L103.38,305.96 L104.78,304.8 L106.17,303.68 L107.57,302.6 L108.97,301.56 L110.36,300.56 L111.76,299.59 L113.15,298.66 L114.55,297.76 L115.95,296.89 L117.34,296.06 L118.74,295.25 L120.14,294.47 L121.53,293.73 L122.93,293.01 L124.32,292.31 L125.72,291.64 L127.12,290.99 L128.51,290.36 L129.91,289.76 L131.31,289.17 L132.7,288.6 L134.1,288.05 L135.49,287.52 L136.89,287 L138.29,286.49 L139.68,285.99 L141.08,285.51 L142.48,285.04 L143.87,284.57 L145.27,284.12 L146.66,283.67 L148.06,283.23 L149.46,282.8 L150.85,282.39 L152.25,281.98 L153.65,281.58 L155.04,281.19 L156.44,280.82 L157.83,280.45 L159.23,280.1 L160.63,279.77 L162.02,279.44 L163.42,279.13 L164.82,278.83 L166.21,278.55 L167.61,278.28 L169,278.03 L170.4,277.8 L171.8,277.58 L173.19,277.37 L174.59,277.19 L175.98,277.02 L177.38,276.87 L178.78,276.74 L180.17,276.63 L181.57,276.53 L182.97,276.46 L184.36,276.4 L185.76,276.37 L187.15,276.36 L188.55,276.37 L189.95,276.4 L191.34,276.45 L192.74,276.53 L194.14,276.63 L195.53,276.75 L196.93,276.9 L198.32,277.07 L199.72,277.26 L201.12,277.48 L202.51,277.73 L203.91,278 L205.31,278.3 L206.7,278.63 L208.1,278.98 L209.49,279.36 L210.89,279.76 L212.29,280.19 L213.68,280.65 L215.08,281.12 L216.48,281.63 L217.87,282.15 L219.27,282.7 L220.66,283.27 L222.06,283.86 L223.46,284.47 L224.85,285.11 L226.25,285.77 L227.65,286.44 L229.04,287.14 L230.44,287.85 L231.83,288.59 L233.23,289.34 L234.63,290.11 L236.02,290.9 L237.42,291.71 L238.82,292.53 L240.21,293.37 L241.61,294.22 L243,295.09 L244.4,295.98 L245.8,296.88 L247.19,297.8 L248.59,298.72 L249.98,299.67 L251.38,300.62 L252.78,301.59 L254.17,302.57 L255.57,303.56 L256.97,304.56 L258.36,305.58 L259.76,306.6 L261.15,307.63 L262.55,308.67 L263.95,309.73 L265.34,310.79 L266.74,311.86 L268.14,312.93 L269.53,314.02 L270.93,315.11 L272.32,316.22 L273.72,317.33 L275.12,318.45 L276.51,319.57 L277.91,320.71 L279.31,321.85 L280.7,323 L282.1,324.16 L283.49,325.32 L284.89,326.5 L286.29,327.68 L287.68,328.87 L289.08,330.06 L290.48,331.26 L291.87,332.47 L293.27,333.69 L294.66,334.91 L296.06,336.14 L297.46,337.37 L298.85,338.62 L300.25,339.87 L301.65,341.12 L303.04,342.38 L304.44,343.65 L305.83,344.93 L307.23,346.21 L308.63,347.5 L310.02,348.79 L311.42,350.09 L312.82,351.39 L314.21,352.7 L315.61,354.02 L317,355.34 L318.4,356.66" stroke="#f02020" stroke-width="1.7" fill="none" stroke-dasharray="4,2.6"/>
<path d="M408.4,257.26 L409.8,257.36 L411.19,257.43 L412.59,257.48 L413.98,257.51 L415.38,257.52 L416.78,257.52 L418.17,257.49 L419.57,257.45 L420.97,257.39 L422.36,257.32 L423.76,257.22 L425.15,257.11 L426.55,256.98 L427.95,256.84 L429.34,256.68 L430.74,256.51 L432.14,256.32 L433.53,256.12 L434.93,255.91 L436.32,255.68 L437.72,255.43 L439.12,255.18 L440.51,254.91 L441.91,254.63 L443.31,254.34 L444.7,254.03 L446.1,253.72 L447.49,253.39 L448.89,253.06 L450.29,252.71 L451.68,252.36 L453.08,251.99 L454.48,251.62 L455.87,251.24 L457.27,250.85 L458.66,250.45 L460.06,250.05 L461.46,249.64 L462.85,249.22 L464.25,248.79 L465.65,248.36 L467.04,247.93 L468.44,247.49 L469.83,247.04 L471.23,246.59 L472.63,246.13 L474.02,245.68 L475.42,245.21 L476.82,244.75 L478.21,244.28 L479.61,243.81 L481,243.34 L482.4,242.87 L483.8,242.39 L485.19,241.92 L486.59,241.44 L487.98,240.97 L489.38,240.49 L490.78,240.02 L492.17,239.54 L493.57,239.07 L494.97,238.6 L496.36,238.13 L497.76,237.67 L499.15,237.2 L500.55,236.74 L501.95,236.29 L503.34,235.84 L504.74,235.39 L506.14,234.95 L507.53,234.51 L508.93,234.08 L510.32,233.65 L511.72,233.23 L513.12,232.81 L514.51,232.41 L515.91,232.01 L517.31,231.61 L518.7,231.23 L520.1,230.85 L521.49,230.48 L522.89,230.12 L524.29,229.77 L525.68,229.42 L527.08,229.08 L528.48,228.75 L529.87,228.42 L531.27,228.11 L532.66,227.8 L534.06,227.5 L535.46,227.2 L536.85,226.91 L538.25,226.63 L539.65,226.36 L541.04,226.1 L542.44,225.84 L543.83,225.59 L545.23,225.34 L546.63,225.11 L548.02,224.88 L549.42,224.66 L550.82,224.44 L552.21,224.24 L553.61,224.04 L555,223.84 L556.4,223.66 L557.8,223.48 L559.19,223.31 L560.59,223.14 L561.98,222.98 L563.38,222.83 L564.78,222.69 L566.17,222.55 L567.57,222.42 L568.97,222.3 L570.36,222.19 L571.76,222.08 L573.15,221.98 L574.55,221.88 L575.95,221.79 L577.34,221.71 L578.74,221.64 L580.14,221.57 L581.53,221.51 L582.93,221.45 L584.32,221.41 L585.72,221.36 L587.12,221.33 L588.51,221.3 L589.91,221.28 L591.31,221.27 L592.7,221.26 L594.1,221.26 L595.49,221.27 L596.89,221.28 L598.29,221.3 L599.68,221.32 L601.08,221.35 L602.48,221.39 L603.87,221.44 L605.27,221.49 L606.66,221.55 L608.06,221.61 L609.46,221.68 L610.85,221.76 L612.25,221.84 L613.65,221.93 L615.04,222.03 L616.44,222.13 L617.83,222.24 L619.23,222.35 L620.63,222.47 L622.02,222.6 L623.42,222.74 L624.82,222.87 L626.21,223.02 L627.61,223.17 L629,223.33 L630.4,223.5" stroke="#1a1ae6" stroke-width="1.6" fill="none" stroke-dasharray="1.2,0.95"/>
<path d="M408.4,360.27 L409.8,360.34 L411.19,360.38 L412.59,360.41 L413.98,360.41 L415.38,360.4 L416.78,360.36 L418.17,360.3 L419.57,360.23 L420.97,360.13 L422.36,360.02 L423.76,359.89 L425.15,359.75 L426.55,359.58 L427.95,359.41 L429.34,359.21 L430.74,359.01 L432.14,358.79 L433.53,358.55 L434.93,358.31 L436.32,358.05 L437.72,357.78 L439.12,357.5 L440.51,357.21 L441.91,356.91 L443.31,356.6 L444.7,356.28 L446.1,355.95 L447.49,355.61 L448.89,355.27 L450.29,354.93 L451.68,354.57 L453.08,354.21 L454.48,353.85 L455.87,353.48 L457.27,353.11 L458.66,352.74 L460.06,352.36 L461.46,351.99 L462.85,351.61 L464.25,351.23 L465.65,350.85 L467.04,350.47 L468.44,350.09 L469.83,349.72 L471.23,349.34 L472.63,348.97 L474.02,348.6 L475.42,348.24 L476.82,347.88 L478.21,347.52 L479.61,347.17 L481,346.82 L482.4,346.48 L483.8,346.14 L485.19,345.81 L486.59,345.48 L487.98,345.16 L489.38,344.84 L490.78,344.53 L492.17,344.22 L493.57,343.92 L494.97,343.63 L496.36,343.34 L497.76,343.07 L499.15,342.79 L500.55,342.53 L501.95,342.27 L503.34,342.02 L504.74,341.78 L506.14,341.54 L507.53,341.32 L508.93,341.1 L510.32,340.89 L511.72,340.7 L513.12,340.51 L514.51,340.32 L515.91,340.15 L517.31,339.99 L518.7,339.84 L520.1,339.7 L521.49,339.57 L522.89,339.45 L524.29,339.34 L525.68,339.23 L527.08,339.14 L528.48,339.06 L529.87,338.98 L531.27,338.92 L532.66,338.86 L534.06,338.81 L535.46,338.77 L536.85,338.74 L538.25,338.72 L539.65,338.7 L541.04,338.7 L542.44,338.7 L543.83,338.71 L545.23,338.73 L546.63,338.75 L548.02,338.79 L549.42,338.83 L550.82,338.87 L552.21,338.93 L553.61,338.99 L555,339.06 L556.4,339.13 L557.8,339.21 L559.19,339.3 L560.59,339.4 L561.98,339.5 L563.38,339.61 L564.78,339.72 L566.17,339.84 L567.57,339.96 L568.97,340.09 L570.36,340.23 L571.76,340.37 L573.15,340.51 L574.55,340.66 L575.95,340.82 L577.34,340.98 L578.74,341.15 L580.14,341.32 L581.53,341.49 L582.93,341.67 L584.32,341.85 L585.72,342.04 L587.12,342.23 L588.51,342.43 L589.91,342.63 L591.31,342.83 L592.7,343.04 L594.1,343.24 L595.49,343.46 L596.89,343.67 L598.29,343.89 L599.68,344.11 L601.08,344.34 L602.48,344.56 L603.87,344.79 L605.27,345.02 L606.66,345.26 L608.06,345.49 L609.46,345.73 L610.85,345.97 L612.25,346.21 L613.65,346.45 L615.04,346.69 L616.44,346.94 L617.83,347.19 L619.23,347.43 L620.63,347.68 L622.02,347.93 L623.42,348.18 L624.82,348.43 L626.21,348.68 L627.61,348.93 L629,349.18 L630.4,349.43" stroke="#111" stroke-width="2" fill="none"/>
<path d="M408.4,357.19 L409.8,357.27 L411.19,357.32 L412.59,357.36 L413.98,357.38 L415.38,357.37 L416.78,357.35 L418.17,357.31 L419.57,357.26 L420.97,357.18 L422.36,357.1 L423.76,356.99 L425.15,356.87 L426.55,356.73 L427.95,356.58 L429.34,356.42 L430.74,356.24 L432.14,356.05 L433.53,355.85 L434.93,355.63 L436.32,355.4 L437.72,355.16 L439.12,354.92 L440.51,354.66 L441.91,354.39 L443.31,354.11 L444.7,353.82 L446.1,353.53 L447.49,353.23 L448.89,352.92 L450.29,352.6 L451.68,352.28 L453.08,351.95 L454.48,351.62 L455.87,351.28 L457.27,350.94 L458.66,350.59 L460.06,350.24 L461.46,349.89 L462.85,349.54 L464.25,349.18 L465.65,348.82 L467.04,348.47 L468.44,348.11 L469.83,347.75 L471.23,347.39 L472.63,347.03 L474.02,346.68 L475.42,346.33 L476.82,345.98 L478.21,345.63 L479.61,345.28 L481,344.94 L482.4,344.59 L483.8,344.26 L485.19,343.92 L486.59,343.59 L487.98,343.26 L489.38,342.94 L490.78,342.62 L492.17,342.3 L493.57,341.99 L494.97,341.69 L496.36,341.39 L497.76,341.09 L499.15,340.8 L500.55,340.52 L501.95,340.24 L503.34,339.97 L504.74,339.7 L506.14,339.44 L507.53,339.19 L508.93,338.95 L510.32,338.71 L511.72,338.48 L513.12,338.26 L514.51,338.04 L515.91,337.83 L517.31,337.64 L518.7,337.45 L520.1,337.27 L521.49,337.09 L522.89,336.93 L524.29,336.77 L525.68,336.63 L527.08,336.49 L528.48,336.36 L529.87,336.24 L531.27,336.12 L532.66,336.02 L534.06,335.92 L535.46,335.83 L536.85,335.75 L538.25,335.67 L539.65,335.61 L541.04,335.55 L542.44,335.5 L543.83,335.46 L545.23,335.42 L546.63,335.4 L548.02,335.38 L549.42,335.36 L550.82,335.36 L552.21,335.36 L553.61,335.37 L555,335.39 L556.4,335.41 L557.8,335.44 L559.19,335.48 L560.59,335.52 L561.98,335.57 L563.38,335.63 L564.78,335.7 L566.17,335.77 L567.57,335.85 L568.97,335.93 L570.36,336.03 L571.76,336.12 L573.15,336.23 L574.55,336.34 L575.95,336.46 L577.34,336.58 L578.74,336.71 L580.14,336.85 L581.53,336.99 L582.93,337.14 L584.32,337.29 L585.72,337.45 L587.12,337.62 L588.51,337.79 L589.91,337.97 L591.31,338.15 L592.7,338.34 L594.1,338.54 L595.49,338.74 L596.89,338.94 L598.29,339.15 L599.68,339.37 L601.08,339.59 L602.48,339.82 L603.87,340.05 L605.27,340.28 L606.66,340.53 L608.06,340.77 L609.46,341.03 L610.85,341.28 L612.25,341.54 L613.65,341.81 L615.04,342.08 L616.44,342.36 L617.83,342.64 L619.23,342.92 L620.63,343.21 L622.02,343.51 L623.42,343.8 L624.82,344.11 L626.21,344.41 L627.61,344.72 L629,345.04 L630.4,345.36" stroke="#f02020" stroke-width="1.9" fill="none" stroke-dasharray="4,2.6"/>
<defs><clipPath id="ce"><rect x="96.4" y="414" width="222" height="180.5"/></clipPath><clipPath id="cf"><rect x="408.4" y="414" width="222" height="180.7"/></clipPath></defs>
<g clip-path="url(#ce)">
<path d="M96.4,416.3 L97.25,416.55 L98.09,416.82 L98.94,417.11 L99.79,417.42 L100.64,417.73 L101.48,418.06 L102.33,418.4 L103.18,418.74 L104.02,419.09 L104.87,419.45 L105.72,419.81 L106.56,420.16 L107.41,420.51 L108.26,420.86 L109.11,421.21 L109.95,421.54 L110.8,421.87 L111.65,422.18 L112.49,422.48 L113.34,422.76 L114.19,423.04 L115.03,423.3 L115.88,423.57 L116.73,423.85 L117.58,424.13 L118.42,424.43 L119.27,424.75 L120.12,425.1 L120.96,425.48 L121.81,425.9 L122.66,426.36 L123.51,426.85 L124.35,427.37 L125.2,427.91 L126.05,428.48 L126.89,429.06 L127.74,429.65 L128.59,430.25 L129.43,430.85 L130.28,431.45 L131.13,432.05 L131.98,432.65 L132.82,433.24 L133.67,433.83 L134.52,434.42 L135.36,435.01 L136.21,435.61 L137.06,436.2 L137.91,436.79 L138.75,437.39 L139.6,437.99 L140.45,438.59 L141.29,439.19 L142.14,439.8 L142.99,440.42 L143.83,441.04 L144.68,441.67 L145.53,442.3 L146.38,442.94 L147.22,443.59 L148.07,444.25 L148.92,444.92 L149.76,445.59 L150.61,446.28 L151.46,446.98 L152.3,447.69 L153.15,448.41 L154,449.15 L154.85,449.9 L155.69,450.66 L156.54,451.44 L157.39,452.23 L158.23,453.04 L159.08,453.87 L159.93,454.71 L160.78,455.57 L161.62,456.45 L162.47,457.34 L163.32,458.26 L164.16,459.19 L165.01,460.15 L165.86,461.12 L166.7,462.12 L167.55,463.13 L168.4,464.16 L169.25,465.21 L170.09,466.27 L170.94,467.36 L171.79,468.46 L172.63,469.58 L173.48,470.72 L174.33,471.87 L175.18,473.04 L176.02,474.22 L176.87,475.43 L177.72,476.64 L178.56,477.88 L179.41,479.13 L180.26,480.39 L181.1,481.67 L181.95,482.96 L182.8,484.27 L183.65,485.59 L184.49,486.93 L185.34,488.28 L186.19,489.65 L187.03,491.02 L187.88,492.41 L188.73,493.82 L189.57,495.23 L190.42,496.67 L191.27,498.11 L192.12,499.58 L192.96,501.07 L193.81,502.58 L194.66,504.11 L195.5,505.67 L196.35,507.25 L197.2,508.86 L198.05,510.51 L198.89,512.18 L199.74,513.89 L200.59,515.63 L201.43,517.41 L202.28,519.23 L203.13,521.08 L203.97,522.97 L204.82,524.89 L205.67,526.84 L206.52,528.83 L207.36,530.84 L208.21,532.88 L209.06,534.94 L209.9,537.03 L210.75,539.14 L211.6,541.27 L212.45,543.42 L213.29,545.59 L214.14,547.77 L214.99,549.97 L215.83,552.19 L216.68,554.44 L217.53,556.71 L218.37,559.01 L219.22,561.34 L220.07,563.71 L220.92,566.12 L221.76,568.57 L222.61,571.07 L223.46,573.62 L224.3,576.23 L225.15,578.89 L226,581.61 L226.84,584.4 L227.69,587.26 L228.54,590.18 L229.39,593.18 L230.23,596.11 L231.08,598.34" stroke="#22dd22" stroke-width="1.8" fill="none"/>
<path d="M96.4,416.27 L97.25,416.93 L98.09,417.54 L98.94,418.09 L99.79,418.59 L100.64,419.05 L101.48,419.48 L102.33,419.86 L103.18,420.22 L104.02,420.55 L104.87,420.86 L105.72,421.15 L106.56,421.43 L107.41,421.7 L108.26,421.96 L109.11,422.23 L109.95,422.5 L110.8,422.77 L111.65,423.07 L112.49,423.37 L113.34,423.7 L114.19,424.05 L115.03,424.42 L115.88,424.81 L116.73,425.22 L117.58,425.64 L118.42,426.08 L119.27,426.53 L120.12,427 L120.96,427.48 L121.81,427.97 L122.66,428.47 L123.51,428.98 L124.35,429.5 L125.2,430.03 L126.05,430.56 L126.89,431.1 L127.74,431.65 L128.59,432.19 L129.43,432.74 L130.28,433.3 L131.13,433.85 L131.98,434.4 L132.82,434.96 L133.67,435.52 L134.52,436.08 L135.36,436.64 L136.21,437.21 L137.06,437.78 L137.91,438.36 L138.75,438.94 L139.6,439.53 L140.45,440.12 L141.29,440.72 L142.14,441.32 L142.99,441.93 L143.83,442.55 L144.68,443.18 L145.53,443.81 L146.38,444.46 L147.22,445.11 L148.07,445.77 L148.92,446.45 L149.76,447.13 L150.61,447.82 L151.46,448.53 L152.3,449.24 L153.15,449.97 L154,450.71 L154.85,451.47 L155.69,452.23 L156.54,453.01 L157.39,453.81 L158.23,454.62 L159.08,455.45 L159.93,456.29 L160.78,457.14 L161.62,458.01 L162.47,458.9 L163.32,459.81 L164.16,460.74 L165.01,461.68 L165.86,462.64 L166.7,463.61 L167.55,464.61 L168.4,465.62 L169.25,466.65 L170.09,467.69 L170.94,468.76 L171.79,469.84 L172.63,470.94 L173.48,472.06 L174.33,473.19 L175.18,474.34 L176.02,475.51 L176.87,476.7 L177.72,477.91 L178.56,479.13 L179.41,480.37 L180.26,481.63 L181.1,482.91 L181.95,484.2 L182.8,485.52 L183.65,486.85 L184.49,488.2 L185.34,489.56 L186.19,490.95 L187.03,492.35 L187.88,493.77 L188.73,495.21 L189.57,496.67 L190.42,498.15 L191.27,499.64 L192.12,501.16 L192.96,502.69 L193.81,504.25 L194.66,505.83 L195.5,507.43 L196.35,509.06 L197.2,510.7 L198.05,512.38 L198.89,514.07 L199.74,515.79 L200.59,517.54 L201.43,519.32 L202.28,521.12 L203.13,522.95 L203.97,524.8 L204.82,526.69 L205.67,528.6 L206.52,530.55 L207.36,532.52 L208.21,534.53 L209.06,536.57 L209.9,538.64 L210.75,540.74 L211.6,542.88 L212.45,545.05 L213.29,547.25 L214.14,549.49 L214.99,551.77 L215.83,554.07 L216.68,556.39 L217.53,558.72 L218.37,561.07 L219.22,563.42 L220.07,565.76 L220.92,568.09 L221.76,570.41 L222.61,572.71 L223.46,575.04 L224.3,577.45 L225.15,579.96 L226,582.63 L226.84,585.49 L227.69,588.59 L228.54,591.98 L229.39,595.68 L230.23,599.15 L231.08,600.05" stroke="#111" stroke-width="1.5" fill="none" stroke-dasharray="3.6,1.3,1.2,1.3"/>
<path d="M96.4,416.72 L97.79,417.09 L99.18,417.46 L100.57,417.83 L101.96,418.18 L103.35,418.53 L104.74,418.87 L106.13,419.22 L107.52,419.55 L108.91,419.88 L110.3,420.22 L111.69,420.54 L113.08,420.87 L114.47,421.2 L115.86,421.53 L117.25,421.86 L118.64,422.19 L120.03,422.52 L121.41,422.86 L122.8,423.2 L124.19,423.54 L125.58,423.89 L126.97,424.24 L128.36,424.6 L129.75,424.97 L131.14,425.35 L132.53,425.73 L133.92,426.12 L135.31,426.51 L136.7,426.9 L138.09,427.3 L139.48,427.69 L140.87,428.09 L142.26,428.47 L143.65,428.85 L145.04,429.21 L146.43,429.58 L147.82,429.96 L149.21,430.35 L150.6,430.74 L151.99,431.12 L153.38,431.49 L154.77,431.81 L156.16,432.09 L157.55,432.31 L158.94,432.49 L160.33,432.65 L161.72,432.8 L163.11,432.97 L164.5,433.18 L165.89,433.42 L167.28,433.68 L168.66,433.95 L170.05,434.18 L171.44,434.35 L172.83,434.44 L174.22,434.45 L175.61,434.41 L177,434.34 L178.39,434.27 L179.78,434.24 L181.17,434.27 L182.56,434.35 L183.95,434.49 L185.34,434.64 L186.73,434.78 L188.12,434.89 L189.51,434.93 L190.9,434.91 L192.29,434.83 L193.68,434.7 L195.07,434.56 L196.46,434.45 L197.85,434.39 L199.24,434.39 L200.63,434.46 L202.02,434.58 L203.41,434.73 L204.8,434.87 L206.19,434.98 L207.58,435.03 L208.97,435.02 L210.36,434.96 L211.75,434.88 L213.14,434.81 L214.53,434.78 L215.92,434.81 L217.3,434.91 L218.69,435.09 L220.08,435.33 L221.47,435.6 L222.86,435.85 L224.25,436.08 L225.64,436.25 L227.03,436.37 L228.42,436.44 L229.81,436.5 L231.2,436.58 L232.59,436.69 L233.98,436.88 L235.37,437.14 L236.76,437.46 L238.15,437.84 L239.54,438.23 L240.93,438.6 L242.32,438.92 L243.71,439.19 L245.1,439.4 L246.49,439.57 L247.88,439.73 L249.27,439.9 L250.66,440.12 L252.05,440.4 L253.44,440.75 L254.83,441.17 L256.22,441.61 L257.61,442.06 L259,442.49 L260.39,442.86 L261.78,443.16 L263.17,443.41 L264.55,443.62 L265.94,443.81 L267.33,444.02 L268.72,444.28 L270.11,444.6 L271.5,444.99 L272.89,445.43 L274.28,445.89 L275.67,446.35 L277.06,446.76 L278.45,447.11 L279.84,447.4 L281.23,447.62 L282.62,447.81 L284.01,447.98 L285.4,448.18 L286.79,448.42 L288.18,448.72 L289.57,449.09 L290.96,449.49 L292.35,449.9 L293.74,450.3 L295.13,450.65 L296.52,450.93 L297.91,451.13 L299.3,451.27 L300.69,451.38 L302.08,451.48 L303.47,451.6 L304.86,451.77 L306.25,451.99 L307.64,452.27 L309.03,452.58 L310.42,452.89 L311.81,453.16 L313.19,453.38 L314.58,453.53 L315.97,453.59 L317.36,453.6" stroke="#ee1c1c" stroke-width="1.8" fill="none"/>
<path d="M96.4,416.84 L97.79,417.18 L99.18,417.52 L100.57,417.85 L101.96,418.19 L103.35,418.53 L104.74,418.88 L106.13,419.22 L107.52,419.57 L108.91,419.92 L110.3,420.27 L111.69,420.62 L113.08,420.98 L114.47,421.35 L115.86,421.71 L117.25,422.08 L118.64,422.46 L120.03,422.84 L121.41,423.23 L122.8,423.62 L124.19,424.02 L125.58,424.42 L126.97,424.83 L128.36,425.25 L129.75,425.68 L131.14,426.11 L132.53,426.55 L133.92,427 L135.31,427.45 L136.7,427.9 L138.09,428.36 L139.48,428.81 L140.87,429.27 L142.26,429.72 L143.65,430.15 L145.04,430.59 L146.43,431.04 L147.82,431.5 L149.21,431.97 L150.6,432.45 L151.99,432.92 L153.38,433.37 L154.77,433.78 L156.16,434.14 L157.55,434.46 L158.94,434.76 L160.33,435.04 L161.72,435.33 L163.11,435.66 L164.5,436.03 L165.89,436.45 L167.28,436.9 L168.66,437.36 L170.05,437.79 L171.44,438.16 L172.83,438.45 L174.22,438.67 L175.61,438.82 L177,438.94 L178.39,439.05 L179.78,439.2 L181.17,439.39 L182.56,439.64 L183.95,439.95 L185.34,440.3 L186.73,440.64 L188.12,440.96 L189.51,441.22 L190.9,441.41 L192.29,441.52 L193.68,441.55 L195.07,441.54 L196.46,441.52 L197.85,441.52 L199.24,441.56 L200.63,441.66 L202.02,441.81 L203.41,442.01 L204.8,442.22 L206.19,442.41 L207.58,442.55 L208.97,442.61 L210.36,442.6 L211.75,442.51 L213.14,442.36 L214.53,442.2 L215.92,442.04 L217.3,441.92 L218.69,441.86 L220.08,441.87 L221.47,441.92 L222.86,442.01 L224.25,442.09 L225.64,442.13 L227.03,442.12 L228.42,442.03 L229.81,441.88 L231.2,441.67 L232.59,441.45 L233.98,441.22 L235.37,441.04 L236.76,440.93 L238.15,440.88 L239.54,440.9 L240.93,440.97 L242.32,441.06 L243.71,441.12 L245.1,441.15 L246.49,441.12 L247.88,441.02 L249.27,440.88 L250.66,440.71 L252.05,440.55 L253.44,440.43 L254.83,440.37 L256.22,440.4 L257.61,440.51 L259,440.68 L260.39,440.88 L261.78,441.09 L263.17,441.28 L264.55,441.42 L265.94,441.5 L267.33,441.54 L268.72,441.55 L270.11,441.58 L271.5,441.64 L272.89,441.77 L274.28,441.98 L275.67,442.28 L277.06,442.65 L278.45,443.07 L279.84,443.5 L281.23,443.91 L282.62,444.28 L284.01,444.6 L285.4,444.86 L286.79,445.08 L288.18,445.29 L289.57,445.52 L290.96,445.81 L292.35,446.16 L293.74,446.6 L295.13,447.1 L296.52,447.65 L297.91,448.22 L299.3,448.77 L300.69,449.28 L302.08,449.72 L303.47,450.11 L304.86,450.43 L306.25,450.73 L307.64,451.04 L309.03,451.38 L310.42,451.77 L311.81,452.24 L313.19,452.77 L314.58,453.35 L315.97,453.95 L317.36,454.53" stroke="#1c1ce6" stroke-width="1.9" fill="none"/>
<path d="M96.4,416.7 L97.79,417.31 L99.18,417.88 L100.57,418.43 L101.96,418.95 L103.35,419.44 L104.74,419.92 L106.13,420.37 L107.52,420.81 L108.91,421.23 L110.3,421.64 L111.69,422.03 L113.08,422.42 L114.47,422.8 L115.86,423.17 L117.25,423.54 L118.64,423.91 L120.03,424.28 L121.41,424.66 L122.8,425.04 L124.19,425.43 L125.58,425.83 L126.97,426.24 L128.36,426.66 L129.75,427.11 L131.14,427.56 L132.53,428.04 L133.92,428.53 L135.31,429.03 L136.7,429.54 L138.09,430.06 L139.48,430.57 L140.87,431.09 L142.26,431.64 L143.65,432.19 L145.04,432.72 L146.43,433.21 L147.82,433.63 L149.21,434 L150.6,434.34 L151.99,434.7 L153.38,435.1 L154.77,435.58 L156.16,436.12 L157.55,436.68 L158.94,437.21 L160.33,437.64 L161.72,437.92 L163.11,438.05 L164.5,438.06 L165.89,438.02 L167.28,438.03 L168.66,438.16 L170.05,438.47 L171.44,438.95 L172.83,439.52 L174.22,440.06 L175.61,440.47 L177,440.69 L178.39,440.71 L179.78,440.56 L181.17,440.33 L182.56,440.12 L183.95,440.03 L185.34,440.12 L186.73,440.39 L188.12,440.8 L189.51,441.27 L190.9,441.68 L192.29,441.94 L193.68,442.02 L195.07,441.9 L196.46,441.64 L197.85,441.33 L199.24,441.08 L200.63,440.98 L202.02,441.06 L203.41,441.33 L204.8,441.72 L206.19,442.14 L207.58,442.48 L208.97,442.67 L210.36,442.66 L211.75,442.48 L213.14,442.18 L214.53,441.87 L215.92,441.65 L217.3,441.59 L218.69,441.73 L220.08,442.05 L221.47,442.47 L222.86,442.88 L224.25,443.2 L225.64,443.34 L227.03,443.28 L228.42,443.07 L229.81,442.77 L231.2,442.48 L232.59,442.31 L233.98,442.32 L235.37,442.53 L236.76,442.89 L238.15,443.33 L239.54,443.73 L240.93,444.01 L242.32,444.11 L243.71,444.01 L245.1,443.77 L246.49,443.47 L247.88,443.22 L249.27,443.11 L250.66,443.2 L252.05,443.48 L253.44,443.89 L254.83,444.36 L256.22,444.78 L257.61,445.06 L259,445.15 L260.39,445.07 L261.78,444.88 L263.17,444.66 L264.55,444.54 L265.94,444.59 L267.33,444.84 L268.72,445.29 L270.11,445.87 L271.5,446.48 L272.89,447.01 L274.28,447.4 L275.67,447.6 L277.06,447.64 L278.45,447.59 L279.84,447.56 L281.23,447.63 L282.62,447.89 L284.01,448.35 L285.4,448.99 L286.79,449.72 L288.18,450.44 L289.57,451.05 L290.96,451.48 L292.35,451.73 L293.74,451.82 L295.13,451.84 L296.52,451.89 L297.91,452.08 L299.3,452.45 L300.69,453.02 L302.08,453.75 L303.47,454.55 L304.86,455.31 L306.25,455.95 L307.64,456.42 L309.03,456.71 L310.42,456.89 L311.81,457.04 L313.19,457.28 L314.58,457.69 L315.97,458.32 L317.36,459.16" stroke="#111" stroke-width="1.5" fill="none" stroke-dasharray="3.6,1.3,1.2,1.3"/>
<path d="M96.4,416.97 L97.79,417.5 L99.18,418.03 L100.57,418.56 L101.96,419.09 L103.35,419.61 L104.74,420.14 L106.13,420.66 L107.52,421.18 L108.91,421.71 L110.3,422.23 L111.69,422.74 L113.08,423.26 L114.47,423.77 L115.86,424.29 L117.25,424.8 L118.64,425.3 L120.03,425.81 L121.41,426.31 L122.8,426.81 L124.19,427.3 L125.58,427.8 L126.97,428.28 L128.36,428.77 L129.75,429.25 L131.14,429.73 L132.53,430.2 L133.92,430.67 L135.31,431.14 L136.7,431.6 L138.09,432.05 L139.48,432.5 L140.87,432.95 L142.26,433.39 L143.65,433.82 L145.04,434.25 L146.43,434.68 L147.82,435.1 L149.21,435.51 L150.6,435.91 L151.99,436.31 L153.38,436.71 L154.77,437.09 L156.16,437.47 L157.55,437.85 L158.94,438.21 L160.33,438.57 L161.72,438.92 L163.11,439.27 L164.5,439.61 L165.89,439.93 L167.28,440.25 L168.66,440.57 L170.05,440.87 L171.44,441.21 L172.83,441.51 L174.22,441.67 L175.61,441.8 L177,442.06 L178.39,442.54 L179.78,443.08 L181.17,443.38 L182.56,443.3 L183.95,443.04 L185.34,443.02 L186.73,443.51 L188.12,444.33 L189.51,444.94 L190.9,444.91 L192.29,444.32 L193.68,443.76 L195.07,443.88 L196.46,444.76 L197.85,445.81 L199.24,446.2 L200.63,445.6 L202.02,444.57 L203.41,444.07 L204.8,444.57 L206.19,445.68 L207.58,446.5 L208.97,446.36 L210.36,445.39 L211.75,444.39 L213.14,444.19 L214.53,444.94 L215.92,445.98 L217.3,446.4 L218.69,445.81 L220.08,444.66 L221.47,443.87 L222.86,444.06 L224.25,445.03 L225.64,445.92 L227.03,445.95 L228.42,445.06 L229.81,443.98 L231.2,443.6 L232.59,444.23 L233.98,445.36 L235.37,446.05 L236.76,445.77 L238.15,444.8 L239.54,444.03 L240.93,444.2 L242.32,445.27 L243.71,446.48 L245.1,446.97 L246.49,446.52 L247.88,445.69 L249.27,445.42 L250.66,446.18 L252.05,447.6 L253.44,448.78 L254.83,449.03 L256.22,448.46 L257.61,447.88 L259,448.12 L260.39,449.33 L261.78,450.85 L263.17,451.78 L264.55,451.7 L265.94,451.05 L267.33,450.76 L268.72,451.43 L270.11,452.87 L271.5,454.25 L272.89,454.75 L274.28,454.32 L275.67,453.67 L277.06,453.68 L278.45,454.68 L279.84,456.15 L281.23,457.19 L282.62,457.22 L284.01,456.51 L285.4,455.96 L286.79,456.3 L288.18,457.51 L289.57,458.83 L290.96,459.4 L292.35,458.96 L293.74,458.1 L295.13,457.75 L296.52,458.37 L297.91,459.63 L299.3,460.62 L300.69,460.65 L302.08,459.81 L303.47,458.92 L304.86,458.81 L306.25,459.63 L307.64,460.76 L309.03,461.26 L310.42,460.74 L311.81,459.61 L313.19,458.79 L314.58,458.91 L315.97,459.8 L317.36,460.6" stroke="#111" stroke-width="1.5" fill="none" stroke-dasharray="3.6,1.3,1.2,1.3"/>
</g>
<g clip-path="url(#cf)">
<path d="M408.4,562.06 L408.77,557.44 L409.14,550.59 L409.51,544.07 L409.88,538.43 L410.25,533.58 L410.62,529.37 L410.99,525.68 L411.36,522.38 L411.74,519.42 L412.11,516.73 L412.48,514.26 L412.85,511.98 L413.22,509.86 L413.59,507.89 L413.96,506.04 L414.33,504.29 L414.7,502.65 L415.07,501.09 L415.44,499.61 L415.81,498.19 L416.18,496.84 L416.55,495.55 L416.92,494.31 L417.29,493.12 L417.67,491.98 L418.04,490.88 L418.41,489.82 L418.78,488.79 L419.15,487.8 L419.52,486.83 L419.89,485.9 L420.26,485 L420.63,484.12 L421,483.27 L421.37,482.44 L421.74,481.63 L422.11,480.85 L422.48,480.08 L422.85,479.34 L423.22,478.61 L423.6,477.9 L423.97,477.21 L424.34,476.53 L424.71,475.87 L425.08,475.23 L425.45,474.59 L425.82,473.98 L426.19,473.37 L426.56,472.78 L426.93,472.2 L427.3,471.63 L427.67,471.07 L428.04,470.52 L428.41,469.99 L428.78,469.46 L429.15,468.95 L429.53,468.44 L429.9,467.95 L430.27,467.46 L430.64,466.98 L431.01,466.51 L431.38,466.05 L431.75,465.59 L432.12,465.15 L432.49,464.71 L432.86,464.28 L433.23,463.85 L433.6,463.43 L433.97,463.02 L434.34,462.62 L434.71,462.22 L435.08,461.83 L435.46,461.44 L435.83,461.06 L436.2,460.68 L436.57,460.31 L436.94,459.95 L437.31,459.59 L437.68,459.23 L438.05,458.88 L438.42,458.54 L438.79,458.2 L439.16,457.86 L439.53,457.53 L439.9,457.2 L440.27,456.88 L440.64,456.56 L441.01,456.24 L441.38,455.93 L441.76,455.62 L442.13,455.32 L442.5,455.02 L442.87,454.72 L443.24,454.43 L443.61,454.14 L443.98,453.85 L444.35,453.57 L444.72,453.29 L445.09,453.02 L445.46,452.74 L445.83,452.47 L446.2,452.21 L446.57,451.94 L446.94,451.68 L447.31,451.42 L447.69,451.16 L448.06,450.91 L448.43,450.66 L448.8,450.41 L449.17,450.17 L449.54,449.93 L449.91,449.69 L450.28,449.45 L450.65,449.21 L451.02,448.98 L451.39,448.75 L451.76,448.52 L452.13,448.3 L452.5,448.07 L452.87,447.85 L453.24,447.63 L453.62,447.42 L453.99,447.2 L454.36,446.99 L454.73,446.78 L455.1,446.57 L455.47,446.36 L455.84,446.16 L456.21,445.95 L456.58,445.75 L456.95,445.55 L457.32,445.36 L457.69,445.16 L458.06,444.97 L458.43,444.78 L458.8,444.59 L459.17,444.4 L459.55,444.21 L459.92,444.03 L460.29,443.84 L460.66,443.66 L461.03,443.48 L461.4,443.31 L461.77,443.13 L462.14,442.95 L462.51,442.78 L462.88,442.61 L463.25,442.44 L463.62,442.27 L463.99,442.1 L464.36,441.94 L464.73,441.78 L465.1,441.61 L465.48,441.45 L465.85,441.29 L466.22,441.14 L466.59,440.98 L466.96,440.82 L467.33,440.67 L467.7,440.52 L468.07,440.37 L468.44,440.22 L468.81,440.07 L469.18,439.92 L469.55,439.78 L469.92,439.64 L470.29,439.49 L470.66,439.35 L471.03,439.21 L471.41,439.07 L471.78,438.94 L472.15,438.8 L472.52,438.67 L472.89,438.53 L473.26,438.4 L473.63,438.27 L474,438.14 L474.37,438.01 L474.74,437.89 L475.11,437.76 L475.48,437.64 L475.85,437.51 L476.22,437.39 L476.59,437.27 L476.96,437.15 L477.33,437.03 L477.71,436.91 L478.08,436.79 L478.45,436.67 L478.82,436.56 L479.19,436.44 L479.56,436.33 L479.93,436.21 L480.3,436.1 L480.67,435.99 L481.04,435.87 L481.41,435.76 L481.78,435.65 L482.15,435.54 L482.52,435.43 L482.89,435.32 L483.26,435.21 L483.64,435.1 L484.01,435 L484.38,434.89 L484.75,434.78 L485.12,434.67 L485.49,434.57 L485.86,434.46 L486.23,434.35 L486.6,434.25 L486.97,434.14 L487.34,434.04 L487.71,433.93 L488.08,433.83 L488.45,433.72 L488.82,433.62 L489.19,433.51 L489.57,433.41 L489.94,433.3 L490.31,433.2 L490.68,433.09 L491.05,432.99 L491.42,432.89 L491.79,432.78 L492.16,432.68 L492.53,432.58 L492.9,432.47 L493.27,432.37 L493.64,432.27 L494.01,432.17 L494.38,432.07 L494.75,431.97 L495.12,431.87 L495.5,431.77 L495.87,431.67 L496.24,431.57 L496.61,431.47 L496.98,431.38 L497.35,431.28 L497.72,431.19 L498.09,431.09 L498.46,431 L498.83,430.91 L499.2,430.82 L499.57,430.73 L499.94,430.64 L500.31,430.55 L500.68,430.47 L501.05,430.38 L501.43,430.3 L501.8,430.21 L502.17,430.13 L502.54,430.05 L502.91,429.97 L503.28,429.89 L503.65,429.82 L504.02,429.74 L504.39,429.66 L504.76,429.59 L505.13,429.52 L505.5,429.44 L505.87,429.37 L506.24,429.3 L506.61,429.23 L506.98,429.16 L507.35,429.09 L507.73,429.02 L508.1,428.95 L508.47,428.88 L508.84,428.81 L509.21,428.74 L509.58,428.67 L509.95,428.6 L510.32,428.53 L510.69,428.46 L511.06,428.39 L511.43,428.32 L511.8,428.26 L512.17,428.19 L512.54,428.12 L512.91,428.05 L513.28,427.98 L513.66,427.91 L514.03,427.84 L514.4,427.77 L514.77,427.69 L515.14,427.62 L515.51,427.55 L515.88,427.48 L516.25,427.4 L516.62,427.33 L516.99,427.25 L517.36,427.18 L517.73,427.1 L518.1,427.03 L518.47,426.95 L518.84,426.87 L519.21,426.79 L519.59,426.72 L519.96,426.64 L520.33,426.56 L520.7,426.48 L521.07,426.4 L521.44,426.33 L521.81,426.25 L522.18,426.17 L522.55,426.09 L522.92,426.01 L523.29,425.93 L523.66,425.86 L524.03,425.78 L524.4,425.7 L524.77,425.62 L525.14,425.55 L525.52,425.47 L525.89,425.39 L526.26,425.32 L526.63,425.24 L527,425.17 L527.37,425.09 L527.74,425.02 L528.11,424.94 L528.48,424.87 L528.85,424.8 L529.22,424.73 L529.59,424.66 L529.96,424.59 L530.33,424.52 L530.7,424.45 L531.07,424.38 L531.45,424.31 L531.82,424.25 L532.19,424.18 L532.56,424.12 L532.93,424.05 L533.3,423.99 L533.67,423.93 L534.04,423.87 L534.41,423.81 L534.78,423.75 L535.15,423.69 L535.52,423.63 L535.89,423.58 L536.26,423.52 L536.63,423.47 L537,423.41 L537.37,423.36 L537.75,423.31 L538.12,423.26 L538.49,423.21 L538.86,423.16 L539.23,423.11 L539.6,423.06 L539.97,423.01 L540.34,422.97 L540.71,422.92 L541.08,422.87 L541.45,422.83 L541.82,422.79 L542.19,422.74 L542.56,422.7 L542.93,422.66 L543.3,422.61 L543.68,422.57 L544.05,422.53 L544.42,422.49 L544.79,422.45 L545.16,422.41 L545.53,422.37 L545.9,422.34 L546.27,422.3 L546.64,422.26 L547.01,422.22 L547.38,422.19 L547.75,422.15 L548.12,422.11 L548.49,422.08 L548.86,422.04 L549.23,422.01 L549.61,421.97 L549.98,421.94 L550.35,421.91 L550.72,421.87 L551.09,421.84 L551.46,421.81 L551.83,421.77 L552.2,421.74 L552.57,421.71 L552.94,421.68 L553.31,421.64 L553.68,421.61 L554.05,421.58 L554.42,421.55 L554.79,421.52 L555.16,421.49 L555.54,421.46 L555.91,421.43 L556.28,421.4 L556.65,421.37 L557.02,421.34 L557.39,421.31 L557.76,421.28 L558.13,421.25 L558.5,421.22 L558.87,421.19 L559.24,421.16 L559.61,421.14 L559.98,421.11 L560.35,421.08 L560.72,421.05 L561.09,421.03 L561.47,421 L561.84,420.97 L562.21,420.95 L562.58,420.92 L562.95,420.89 L563.32,420.87 L563.69,420.84 L564.06,420.82 L564.43,420.79 L564.8,420.76 L565.17,420.74 L565.54,420.71 L565.91,420.69 L566.28,420.66 L566.65,420.64 L567.02,420.62 L567.39,420.59 L567.77,420.57 L568.14,420.54 L568.51,420.52 L568.88,420.5 L569.25,420.47 L569.62,420.45 L569.99,420.43 L570.36,420.4 L570.73,420.38 L571.1,420.36 L571.47,420.34 L571.84,420.31 L572.21,420.29 L572.58,420.27 L572.95,420.25 L573.32,420.23 L573.7,420.21 L574.07,420.18 L574.44,420.16 L574.81,420.14 L575.18,420.12 L575.55,420.1 L575.92,420.08 L576.29,420.06 L576.66,420.04 L577.03,420.02 L577.4,420 L577.77,419.98 L578.14,419.96 L578.51,419.94 L578.88,419.92 L579.25,419.9 L579.63,419.89 L580,419.87 L580.37,419.85 L580.74,419.83 L581.11,419.81 L581.48,419.79 L581.85,419.78 L582.22,419.76 L582.59,419.74 L582.96,419.73 L583.33,419.71 L583.7,419.69 L584.07,419.67 L584.44,419.66 L584.81,419.64 L585.18,419.63 L585.56,419.61 L585.93,419.59 L586.3,419.58 L586.67,419.56 L587.04,419.55 L587.41,419.53 L587.78,419.52 L588.15,419.5 L588.52,419.49 L588.89,419.47 L589.26,419.46 L589.63,419.44 L590,419.43 L590.37,419.42 L590.74,419.4 L591.11,419.39 L591.49,419.38 L591.86,419.36 L592.23,419.35 L592.6,419.34 L592.97,419.33 L593.34,419.31 L593.71,419.3 L594.08,419.29 L594.45,419.28 L594.82,419.26 L595.19,419.25 L595.56,419.24 L595.93,419.23 L596.3,419.22 L596.67,419.21 L597.04,419.2 L597.42,419.19 L597.79,419.18 L598.16,419.17 L598.53,419.16 L598.9,419.15 L599.27,419.14 L599.64,419.13 L600.01,419.12 L600.38,419.11 L600.75,419.1 L601.12,419.09 L601.49,419.08 L601.86,419.07 L602.23,419.06 L602.6,419.05 L602.97,419.04 L603.34,419.04 L603.72,419.03 L604.09,419.02 L604.46,419.01 L604.83,419 L605.2,419 L605.57,418.99 L605.94,418.98 L606.31,418.97 L606.68,418.97 L607.05,418.96 L607.42,418.95 L607.79,418.95 L608.16,418.94 L608.53,418.93 L608.9,418.93 L609.27,418.92 L609.65,418.92 L610.02,418.91 L610.39,418.9 L610.76,418.9 L611.13,418.89 L611.5,418.89 L611.87,418.88 L612.24,418.88 L612.61,418.87 L612.98,418.87 L613.35,418.86 L613.72,418.86 L614.09,418.86 L614.46,418.85 L614.83,418.85 L615.2,418.84 L615.58,418.84 L615.95,418.84 L616.32,418.83 L616.69,418.83 L617.06,418.83 L617.43,418.82 L617.8,418.82 L618.17,418.82 L618.54,418.81 L618.91,418.81 L619.28,418.81 L619.65,418.81 L620.02,418.8 L620.39,418.8 L620.76,418.8 L621.13,418.8 L621.51,418.8 L621.88,418.79 L622.25,418.79 L622.62,418.79 L622.99,418.79 L623.36,418.79 L623.73,418.79 L624.1,418.79 L624.47,418.79 L624.84,418.78 L625.21,418.78 L625.58,418.78 L625.95,418.78 L626.32,418.78 L626.69,418.78 L627.06,418.78 L627.44,418.78 L627.81,418.78 L628.18,418.78 L628.55,418.78 L628.92,418.78 L629.29,418.79 L629.66,418.79 L630.03,418.79 L630.4,418.79" stroke="#22dd22" stroke-width="1.8" fill="none"/>
<path d="M408.4,562.19 L408.77,558.2 L409.14,551.7 L409.51,545.33 L409.88,539.73 L410.25,534.9 L410.62,530.71 L410.99,527.01 L411.36,523.72 L411.74,520.76 L412.11,518.07 L412.48,515.61 L412.85,513.34 L413.22,511.23 L413.59,509.26 L413.96,507.41 L414.33,505.68 L414.7,504.04 L415.07,502.49 L415.44,501.01 L415.81,499.6 L416.18,498.26 L416.55,496.98 L416.92,495.74 L417.29,494.56 L417.67,493.42 L418.04,492.33 L418.41,491.27 L418.78,490.25 L419.15,489.26 L419.52,488.3 L419.89,487.38 L420.26,486.48 L420.63,485.61 L421,484.76 L421.37,483.94 L421.74,483.13 L422.11,482.35 L422.48,481.59 L422.85,480.85 L423.22,480.13 L423.6,479.42 L423.97,478.73 L424.34,478.06 L424.71,477.4 L425.08,476.76 L425.45,476.13 L425.82,475.51 L426.19,474.91 L426.56,474.31 L426.93,473.74 L427.3,473.17 L427.67,472.61 L428.04,472.07 L428.41,471.53 L428.78,471.01 L429.15,470.49 L429.53,469.99 L429.9,469.49 L430.27,469 L430.64,468.52 L431.01,468.05 L431.38,467.59 L431.75,467.14 L432.12,466.69 L432.49,466.25 L432.86,465.82 L433.23,465.39 L433.6,464.97 L433.97,464.56 L434.34,464.15 L434.71,463.75 L435.08,463.36 L435.46,462.97 L435.83,462.58 L436.2,462.21 L436.57,461.83 L436.94,461.47 L437.31,461.11 L437.68,460.75 L438.05,460.4 L438.42,460.05 L438.79,459.71 L439.16,459.37 L439.53,459.04 L439.9,458.71 L440.27,458.38 L440.64,458.06 L441.01,457.74 L441.38,457.43 L441.76,457.12 L442.13,456.81 L442.5,456.51 L442.87,456.21 L443.24,455.92 L443.61,455.63 L443.98,455.34 L444.35,455.06 L444.72,454.77 L445.09,454.5 L445.46,454.22 L445.83,453.95 L446.2,453.68 L446.57,453.42 L446.94,453.15 L447.31,452.89 L447.69,452.64 L448.06,452.38 L448.43,452.13 L448.8,451.88 L449.17,451.64 L449.54,451.39 L449.91,451.15 L450.28,450.91 L450.65,450.68 L451.02,450.44 L451.39,450.21 L451.76,449.98 L452.13,449.76 L452.5,449.53 L452.87,449.31 L453.24,449.09 L453.62,448.87 L453.99,448.66 L454.36,448.45 L454.73,448.23 L455.1,448.03 L455.47,447.82 L455.84,447.61 L456.21,447.41 L456.58,447.21 L456.95,447.01 L457.32,446.81 L457.69,446.62 L458.06,446.43 L458.43,446.24 L458.8,446.05 L459.17,445.86 L459.55,445.67 L459.92,445.49 L460.29,445.31 L460.66,445.13 L461.03,444.95 L461.4,444.77 L461.77,444.59 L462.14,444.42 L462.51,444.25 L462.88,444.08 L463.25,443.91 L463.62,443.74 L463.99,443.58 L464.36,443.41 L464.73,443.25 L465.1,443.09 L465.48,442.93 L465.85,442.77 L466.22,442.61 L466.59,442.46 L466.96,442.3 L467.33,442.15 L467.7,442 L468.07,441.85 L468.44,441.7 L468.81,441.56 L469.18,441.41 L469.55,441.27 L469.92,441.12 L470.29,440.98 L470.66,440.84 L471.03,440.7 L471.41,440.57 L471.78,440.43 L472.15,440.3 L472.52,440.16 L472.89,440.03 L473.26,439.9 L473.63,439.77 L474,439.64 L474.37,439.51 L474.74,439.39 L475.11,439.26 L475.48,439.14 L475.85,439.02 L476.22,438.89 L476.59,438.77 L476.96,438.65 L477.33,438.53 L477.71,438.42 L478.08,438.3 L478.45,438.18 L478.82,438.07 L479.19,437.95 L479.56,437.84 L479.93,437.72 L480.3,437.61 L480.67,437.5 L481.04,437.39 L481.41,437.28 L481.78,437.16 L482.15,437.05 L482.52,436.94 L482.89,436.83 L483.26,436.73 L483.64,436.62 L484.01,436.51 L484.38,436.4 L484.75,436.29 L485.12,436.19 L485.49,436.08 L485.86,435.97 L486.23,435.86 L486.6,435.76 L486.97,435.65 L487.34,435.54 L487.71,435.44 L488.08,435.33 L488.45,435.23 L488.82,435.12 L489.19,435.01 L489.57,434.91 L489.94,434.8 L490.31,434.7 L490.68,434.59 L491.05,434.48 L491.42,434.38 L491.79,434.27 L492.16,434.17 L492.53,434.06 L492.9,433.95 L493.27,433.85 L493.64,433.75 L494.01,433.64 L494.38,433.54 L494.75,433.44 L495.12,433.33 L495.5,433.23 L495.87,433.13 L496.24,433.03 L496.61,432.93 L496.98,432.84 L497.35,432.74 L497.72,432.64 L498.09,432.55 L498.46,432.45 L498.83,432.36 L499.2,432.27 L499.57,432.18 L499.94,432.09 L500.31,432 L500.68,431.91 L501.05,431.83 L501.43,431.74 L501.8,431.66 L502.17,431.58 L502.54,431.5 L502.91,431.42 L503.28,431.34 L503.65,431.26 L504.02,431.19 L504.39,431.11 L504.76,431.04 L505.13,430.97 L505.5,430.89 L505.87,430.82 L506.24,430.75 L506.61,430.68 L506.98,430.61 L507.35,430.54 L507.73,430.48 L508.1,430.41 L508.47,430.34 L508.84,430.27 L509.21,430.21 L509.58,430.14 L509.95,430.07 L510.32,430.01 L510.69,429.94 L511.06,429.87 L511.43,429.81 L511.8,429.74 L512.17,429.67 L512.54,429.6 L512.91,429.54 L513.28,429.47 L513.66,429.4 L514.03,429.33 L514.4,429.26 L514.77,429.19 L515.14,429.12 L515.51,429.05 L515.88,428.98 L516.25,428.91 L516.62,428.84 L516.99,428.76 L517.36,428.69 L517.73,428.61 L518.1,428.54 L518.47,428.46 L518.84,428.39 L519.21,428.31 L519.59,428.23 L519.96,428.16 L520.33,428.08 L520.7,428 L521.07,427.93 L521.44,427.85 L521.81,427.77 L522.18,427.69 L522.55,427.61 L522.92,427.54 L523.29,427.46 L523.66,427.38 L524.03,427.3 L524.4,427.23 L524.77,427.15 L525.14,427.07 L525.52,426.99 L525.89,426.92 L526.26,426.84 L526.63,426.77 L527,426.69 L527.37,426.62 L527.74,426.54 L528.11,426.47 L528.48,426.39 L528.85,426.32 L529.22,426.25 L529.59,426.18 L529.96,426.11 L530.33,426.03 L530.7,425.97 L531.07,425.9 L531.45,425.83 L531.82,425.76 L532.19,425.69 L532.56,425.63 L532.93,425.56 L533.3,425.5 L533.67,425.44 L534.04,425.37 L534.41,425.31 L534.78,425.25 L535.15,425.19 L535.52,425.13 L535.89,425.07 L536.26,425.02 L536.63,424.96 L537,424.91 L537.37,424.85 L537.75,424.8 L538.12,424.74 L538.49,424.69 L538.86,424.64 L539.23,424.59 L539.6,424.54 L539.97,424.49 L540.34,424.44 L540.71,424.39 L541.08,424.35 L541.45,424.3 L541.82,424.25 L542.19,424.21 L542.56,424.16 L542.93,424.12 L543.3,424.08 L543.68,424.03 L544.05,423.99 L544.42,423.95 L544.79,423.91 L545.16,423.87 L545.53,423.83 L545.9,423.79 L546.27,423.75 L546.64,423.71 L547.01,423.67 L547.38,423.63 L547.75,423.6 L548.12,423.56 L548.49,423.52 L548.86,423.49 L549.23,423.45 L549.61,423.42 L549.98,423.38 L550.35,423.35 L550.72,423.32 L551.09,423.28 L551.46,423.25 L551.83,423.22 L552.2,423.19 L552.57,423.16 L552.94,423.13 L553.31,423.09 L553.68,423.06 L554.05,423.03 L554.42,423 L554.79,422.98 L555.16,422.95 L555.54,422.92 L555.91,422.89 L556.28,422.86 L556.65,422.83 L557.02,422.81 L557.39,422.78 L557.76,422.75 L558.13,422.72 L558.5,422.7 L558.87,422.67 L559.24,422.64 L559.61,422.62 L559.98,422.59 L560.35,422.57 L560.72,422.54 L561.09,422.52 L561.47,422.49 L561.84,422.47 L562.21,422.44 L562.58,422.42 L562.95,422.39 L563.32,422.37 L563.69,422.34 L564.06,422.32 L564.43,422.3 L564.8,422.27 L565.17,422.25 L565.54,422.23 L565.91,422.2 L566.28,422.18 L566.65,422.16 L567.02,422.13 L567.39,422.11 L567.77,422.09 L568.14,422.06 L568.51,422.04 L568.88,422.02 L569.25,421.99 L569.62,421.97 L569.99,421.95 L570.36,421.93 L570.73,421.9 L571.1,421.88 L571.47,421.86 L571.84,421.83 L572.21,421.81 L572.58,421.79 L572.95,421.77 L573.32,421.74 L573.7,421.72 L574.07,421.7 L574.44,421.68 L574.81,421.66 L575.18,421.63 L575.55,421.61 L575.92,421.59 L576.29,421.57 L576.66,421.55 L577.03,421.53 L577.4,421.51 L577.77,421.48 L578.14,421.46 L578.51,421.44 L578.88,421.42 L579.25,421.4 L579.63,421.38 L580,421.36 L580.37,421.34 L580.74,421.32 L581.11,421.3 L581.48,421.28 L581.85,421.26 L582.22,421.25 L582.59,421.23 L582.96,421.21 L583.33,421.19 L583.7,421.17 L584.07,421.15 L584.44,421.14 L584.81,421.12 L585.18,421.1 L585.56,421.09 L585.93,421.07 L586.3,421.05 L586.67,421.04 L587.04,421.02 L587.41,421 L587.78,420.99 L588.15,420.97 L588.52,420.96 L588.89,420.94 L589.26,420.93 L589.63,420.91 L590,420.9 L590.37,420.89 L590.74,420.87 L591.11,420.86 L591.49,420.85 L591.86,420.83 L592.23,420.82 L592.6,420.81 L592.97,420.8 L593.34,420.78 L593.71,420.77 L594.08,420.76 L594.45,420.75 L594.82,420.74 L595.19,420.73 L595.56,420.71 L595.93,420.7 L596.3,420.69 L596.67,420.68 L597.04,420.67 L597.42,420.66 L597.79,420.65 L598.16,420.64 L598.53,420.63 L598.9,420.62 L599.27,420.61 L599.64,420.61 L600.01,420.6 L600.38,420.59 L600.75,420.58 L601.12,420.57 L601.49,420.56 L601.86,420.55 L602.23,420.55 L602.6,420.54 L602.97,420.53 L603.34,420.52 L603.72,420.52 L604.09,420.51 L604.46,420.5 L604.83,420.5 L605.2,420.49 L605.57,420.48 L605.94,420.48 L606.31,420.47 L606.68,420.46 L607.05,420.46 L607.42,420.45 L607.79,420.45 L608.16,420.44 L608.53,420.44 L608.9,420.43 L609.27,420.43 L609.65,420.42 L610.02,420.41 L610.39,420.41 L610.76,420.41 L611.13,420.4 L611.5,420.4 L611.87,420.39 L612.24,420.39 L612.61,420.38 L612.98,420.38 L613.35,420.38 L613.72,420.37 L614.09,420.37 L614.46,420.36 L614.83,420.36 L615.2,420.36 L615.58,420.35 L615.95,420.35 L616.32,420.35 L616.69,420.34 L617.06,420.34 L617.43,420.34 L617.8,420.34 L618.17,420.33 L618.54,420.33 L618.91,420.33 L619.28,420.32 L619.65,420.32 L620.02,420.32 L620.39,420.32 L620.76,420.32 L621.13,420.31 L621.51,420.31 L621.88,420.31 L622.25,420.31 L622.62,420.3 L622.99,420.3 L623.36,420.3 L623.73,420.3 L624.1,420.3 L624.47,420.3 L624.84,420.29 L625.21,420.29 L625.58,420.29 L625.95,420.29 L626.32,420.29 L626.69,420.29 L627.06,420.29 L627.44,420.28 L627.81,420.28 L628.18,420.28 L628.55,420.28 L628.92,420.28 L629.29,420.28 L629.66,420.28 L630.03,420.28 L630.4,420.28" stroke="#111" stroke-width="1.5" fill="none" stroke-dasharray="3.6,1.3,1.2,1.3"/>
<path d="M408.4,562.25 L408.77,560.94 L409.14,556.44 L409.51,550.95 L409.88,545.66 L410.25,540.9 L410.62,536.68 L410.99,532.94 L411.36,529.59 L411.74,526.57 L412.11,523.83 L412.48,521.33 L412.85,519.02 L413.22,516.89 L413.59,514.9 L413.96,513.05 L414.33,511.31 L414.7,509.68 L415.07,508.14 L415.44,506.68 L415.81,505.3 L416.18,503.99 L416.55,502.75 L416.92,501.56 L417.29,500.43 L417.67,499.35 L418.04,498.31 L418.41,497.32 L418.78,496.37 L419.15,495.46 L419.52,494.58 L419.89,493.74 L420.26,492.94 L420.63,492.16 L421,491.42 L421.37,490.7 L421.74,490.01 L422.11,489.35 L422.48,488.71 L422.85,488.09 L423.22,487.5 L423.6,486.92 L423.97,486.36 L424.34,485.83 L424.71,485.3 L425.08,484.8 L425.45,484.3 L425.82,483.82 L426.19,483.36 L426.56,482.9 L426.93,482.46 L427.3,482.02 L427.67,481.6 L428.04,481.18 L428.41,480.78 L428.78,480.38 L429.15,479.99 L429.53,479.6 L429.9,479.23 L430.27,478.86 L430.64,478.49 L431.01,478.13 L431.38,477.78 L431.75,477.43 L432.12,477.08 L432.49,476.74 L432.86,476.4 L433.23,476.07 L433.6,475.73 L433.97,475.41 L434.34,475.08 L434.71,474.76 L435.08,474.44 L435.46,474.12 L435.83,473.8 L436.2,473.48 L436.57,473.17 L436.94,472.86 L437.31,472.54 L437.68,472.24 L438.05,471.93 L438.42,471.63 L438.79,471.33 L439.16,471.03 L439.53,470.73 L439.9,470.44 L440.27,470.16 L440.64,469.87 L441.01,469.59 L441.38,469.32 L441.76,469.04 L442.13,468.78 L442.5,468.51 L442.87,468.26 L443.24,468 L443.61,467.75 L443.98,467.51 L444.35,467.27 L444.72,467.03 L445.09,466.8 L445.46,466.58 L445.83,466.36 L446.2,466.14 L446.57,465.93 L446.94,465.73 L447.31,465.53 L447.69,465.34 L448.06,465.15 L448.43,464.97 L448.8,464.79 L449.17,464.62 L449.54,464.46 L449.91,464.29 L450.28,464.14 L450.65,463.99 L451.02,463.84 L451.39,463.7 L451.76,463.56 L452.13,463.42 L452.5,463.29 L452.87,463.17 L453.24,463.04 L453.62,462.92 L453.99,462.81 L454.36,462.7 L454.73,462.59 L455.1,462.49 L455.47,462.38 L455.84,462.29 L456.21,462.19 L456.58,462.1 L456.95,462.01 L457.32,461.93 L457.69,461.84 L458.06,461.77 L458.43,461.69 L458.8,461.62 L459.17,461.54 L459.55,461.48 L459.92,461.41 L460.29,461.35 L460.66,461.29 L461.03,461.23 L461.4,461.17 L461.77,461.12 L462.14,461.07 L462.51,461.02 L462.88,460.97 L463.25,460.93 L463.62,460.88 L463.99,460.84 L464.36,460.81 L464.73,460.77 L465.1,460.73 L465.48,460.7 L465.85,460.67 L466.22,460.64 L466.59,460.61 L466.96,460.59 L467.33,460.57 L467.7,460.54 L468.07,460.52 L468.44,460.5 L468.81,460.49 L469.18,460.47 L469.55,460.45 L469.92,460.44 L470.29,460.43 L470.66,460.42 L471.03,460.41 L471.41,460.4 L471.78,460.39 L472.15,460.39 L472.52,460.38 L472.89,460.38 L473.26,460.38 L473.63,460.38 L474,460.38 L474.37,460.38 L474.74,460.38 L475.11,460.38 L475.48,460.39 L475.85,460.39 L476.22,460.4 L476.59,460.4 L476.96,460.41 L477.33,460.42 L477.71,460.43 L478.08,460.44 L478.45,460.46 L478.82,460.47 L479.19,460.48 L479.56,460.5 L479.93,460.52 L480.3,460.54 L480.67,460.56 L481.04,460.58 L481.41,460.6 L481.78,460.62 L482.15,460.65 L482.52,460.67 L482.89,460.7 L483.26,460.73 L483.64,460.76 L484.01,460.79 L484.38,460.82 L484.75,460.86 L485.12,460.89 L485.49,460.93 L485.86,460.97 L486.23,461.01 L486.6,461.05 L486.97,461.09 L487.34,461.14 L487.71,461.18 L488.08,461.23 L488.45,461.28 L488.82,461.33 L489.19,461.38 L489.57,461.43 L489.94,461.49 L490.31,461.55 L490.68,461.61 L491.05,461.67 L491.42,461.73 L491.79,461.79 L492.16,461.86 L492.53,461.93 L492.9,462 L493.27,462.07 L493.64,462.14 L494.01,462.22 L494.38,462.29 L494.75,462.37 L495.12,462.46 L495.5,462.54 L495.87,462.62 L496.24,462.71 L496.61,462.8 L496.98,462.89 L497.35,462.99 L497.72,463.08 L498.09,463.18 L498.46,463.28 L498.83,463.39 L499.2,463.49 L499.57,463.6 L499.94,463.71 L500.31,463.83 L500.68,463.94 L501.05,464.06 L501.43,464.18 L501.8,464.31 L502.17,464.43 L502.54,464.56 L502.91,464.7 L503.28,464.83 L503.65,464.97 L504.02,465.11 L504.39,465.26 L504.76,465.41 L505.13,465.56 L505.5,465.71 L505.87,465.87 L506.24,466.03 L506.61,466.2 L506.98,466.36 L507.35,466.54 L507.73,466.71 L508.1,466.89 L508.47,467.08 L508.84,467.26 L509.21,467.46 L509.58,467.65 L509.95,467.85 L510.32,468.06 L510.69,468.27 L511.06,468.48 L511.43,468.7 L511.8,468.92 L512.17,469.15 L512.54,469.38 L512.91,469.62 L513.28,469.87 L513.66,470.12 L514.03,470.37 L514.4,470.63 L514.77,470.9 L515.14,471.17 L515.51,471.45 L515.88,471.74 L516.25,472.03 L516.62,472.32 L516.99,472.62 L517.36,472.93 L517.73,473.25 L518.1,473.57 L518.47,473.9 L518.84,474.24 L519.21,474.58 L519.59,474.93 L519.96,475.29 L520.33,475.65 L520.7,476.02 L521.07,476.41 L521.44,476.8 L521.81,477.19 L522.18,477.6 L522.55,478.02 L522.92,478.44 L523.29,478.87 L523.66,479.32 L524.03,479.77 L524.4,480.24 L524.77,480.71 L525.14,481.2 L525.52,481.7 L525.89,482.2 L526.26,482.73 L526.63,483.26 L527,483.81 L527.37,484.37 L527.74,484.95 L528.11,485.54 L528.48,486.14 L528.85,486.76 L529.22,487.4 L529.59,488.06 L529.96,488.74 L530.33,489.43 L530.7,490.15 L531.07,490.89 L531.45,491.65 L531.82,492.43 L532.19,493.24 L532.56,494.08 L532.93,494.94 L533.3,495.84 L533.67,496.77 L534.04,497.73 L534.41,498.73 L534.78,499.77 L535.15,500.86 L535.52,501.99 L535.89,503.17 L536.26,504.41 L536.63,505.71 L537,507.07 L537.37,508.51 L537.75,510.03 L538.12,511.64 L538.49,513.34 L538.86,515.17 L539.23,517.12 L539.6,519.22 L539.68,519.67 L539.75,520.12 L539.82,520.57 L539.9,521.03 L539.97,521.48 L539.97,521.5 L540.05,521.97 L540.12,522.46 L540.19,522.95 L540.27,523.45 L540.34,523.94 L540.34,523.95 L540.42,524.47 L540.49,525 L540.56,525.53 L540.64,526.08 L540.71,526.63 L540.71,526.64 L540.79,527.2 L540.86,527.78 L540.93,528.37 L541.01,528.97 L541.08,529.58 L541.08,529.59 L541.16,530.21 L541.23,530.85 L541.3,531.5 L541.38,532.17 L541.45,532.84 L541.45,532.85 L541.53,533.54 L541.6,534.25 L541.67,534.97 L541.75,535.71 L541.82,536.47 L541.82,536.47 L541.9,537.24 L541.97,538.03 L542.04,538.84 L542.12,539.66 L542.19,540.5 L542.19,540.51 L542.27,541.36 L542.34,542.23 L542.41,543.12 L542.49,544.02 L542.56,544.94 L542.56,544.96 L542.64,545.87 L542.71,546.8 L542.78,547.75 L542.86,548.69 L542.93,549.63 L542.93,549.66 L543.01,550.57 L543.08,551.48 L543.15,552.38 L543.23,553.23 L543.3,554.04 L543.3,554.07 L543.38,554.79 L543.45,555.46 L543.52,556.04 L543.6,556.52 L543.67,556.89 L543.68,556.9 L543.75,557.13 L543.82,557.23 L543.89,557.2 L543.97,557.04 L544.04,556.75 L544.05,556.73 L544.12,556.33 L544.19,555.81 L544.26,555.19 L544.34,554.49 L544.41,553.72 L544.42,553.67 L544.49,552.9 L544.56,552.04 L544.63,551.14 L544.71,550.23 L544.78,549.3 L544.79,549.24 L544.86,548.37 L544.93,547.44 L545,546.51 L545.08,545.59 L545.15,544.68 L545.16,544.61 L545.23,543.78 L545.3,542.9 L545.37,542.03 L545.45,541.18 L545.52,540.34 L545.53,540.27 L545.6,539.52 L545.67,538.72 L545.74,537.94 L545.82,537.17 L545.89,536.42 L545.9,536.35 L545.97,535.68 L546.04,534.96 L546.11,534.26 L546.19,533.57 L546.26,532.89 L546.27,532.82 L546.34,532.23 L546.41,531.59 L546.48,530.95 L546.56,530.33 L546.63,529.73 L546.64,529.66 L546.71,529.13 L546.78,528.55 L546.85,527.98 L546.93,527.41 L547,526.86 L547.01,526.8 L547.08,526.32 L547.15,525.79 L547.22,525.27 L547.3,524.76 L547.37,524.26 L547.38,524.2 L547.45,523.77 L547.52,523.28 L547.59,522.81 L547.67,522.34 L547.74,521.88 L547.75,521.82 L547.82,521.43 L547.89,520.98 L547.96,520.54 L548.04,520.11 L548.11,519.69 L548.12,519.63 L548.19,519.27 L548.26,518.86 L548.33,518.45 L548.41,518.06 L548.48,517.66 L548.49,517.6 L548.56,517.27 L548.86,515.72 L549.23,513.96 L549.61,512.32 L549.98,510.77 L550.35,509.31 L550.72,507.93 L551.09,506.62 L551.46,505.37 L551.83,504.19 L552.2,503.06 L552.57,501.98 L552.94,500.94 L553.31,499.94 L553.68,498.99 L554.05,498.07 L554.42,497.18 L554.79,496.33 L555.16,495.5 L555.54,494.7 L555.91,493.93 L556.28,493.18 L556.65,492.46 L557.02,491.75 L557.39,491.07 L557.76,490.4 L558.13,489.76 L558.5,489.13 L558.87,488.51 L559.24,487.92 L559.61,487.34 L559.98,486.77 L560.35,486.21 L560.72,485.67 L561.09,485.14 L561.47,484.63 L561.84,484.12 L562.21,483.63 L562.58,483.15 L562.95,482.67 L563.32,482.21 L563.69,481.76 L564.06,481.31 L564.43,480.88 L564.8,480.45 L565.17,480.03 L565.54,479.62 L565.91,479.22 L566.28,478.82 L566.65,478.43 L567.02,478.05 L567.39,477.68 L567.77,477.31 L568.14,476.95 L568.51,476.6 L568.88,476.25 L569.25,475.91 L569.62,475.58 L569.99,475.25 L570.36,474.93 L570.73,474.61 L571.1,474.3 L571.47,473.99 L571.84,473.69 L572.21,473.39 L572.58,473.1 L572.95,472.82 L573.32,472.54 L573.7,472.26 L574.07,471.99 L574.44,471.72 L574.81,471.46 L575.18,471.2 L575.55,470.95 L575.92,470.7 L576.29,470.45 L576.66,470.21 L577.03,469.97 L577.4,469.74 L577.77,469.51 L578.14,469.29 L578.51,469.06 L578.88,468.85 L579.25,468.63 L579.63,468.42 L580,468.22 L580.37,468.01 L580.74,467.81 L581.11,467.62 L581.48,467.42 L581.85,467.23 L582.22,467.05 L582.59,466.87 L582.96,466.69 L583.33,466.51 L583.7,466.34 L584.07,466.17 L584.44,466 L584.81,465.84 L585.18,465.68 L585.56,465.52 L585.93,465.37 L586.3,465.21 L586.67,465.07 L587.04,464.92 L587.41,464.78 L587.78,464.64 L588.15,464.5 L588.52,464.37 L588.89,464.24 L589.26,464.11 L589.63,463.98 L590,463.86 L590.37,463.74 L590.74,463.63 L591.11,463.51 L591.49,463.4 L591.86,463.29 L592.23,463.18 L592.6,463.08 L592.97,462.98 L593.34,462.88 L593.71,462.79 L594.08,462.7 L594.45,462.61 L594.82,462.52 L595.19,462.43 L595.56,462.35 L595.93,462.27 L596.3,462.2 L596.67,462.12 L597.04,462.05 L597.42,461.98 L597.79,461.91 L598.16,461.85 L598.53,461.79 L598.9,461.73 L599.27,461.67 L599.64,461.61 L600.01,461.56 L600.38,461.51 L600.75,461.46 L601.12,461.42 L601.49,461.38 L601.86,461.34 L602.23,461.3 L602.6,461.26 L602.97,461.23 L603.34,461.2 L603.72,461.17 L604.09,461.14 L604.46,461.12 L604.83,461.1 L605.2,461.08 L605.57,461.06 L605.94,461.05 L606.31,461.04 L606.68,461.03 L607.05,461.02 L607.42,461.01 L607.79,461.01 L608.16,461.01 L608.53,461.01 L608.9,461.02 L609.27,461.02 L609.65,461.03 L610.02,461.04 L610.39,461.06 L610.76,461.07 L611.13,461.09 L611.5,461.11 L611.87,461.14 L612.24,461.16 L612.61,461.19 L612.98,461.22 L613.35,461.25 L613.72,461.29 L614.09,461.33 L614.46,461.37 L614.83,461.41 L615.2,461.46 L615.58,461.51 L615.95,461.56 L616.32,461.61 L616.69,461.67 L617.06,461.73 L617.43,461.79 L617.8,461.85 L618.17,461.92 L618.54,461.99 L618.91,462.06 L619.28,462.14 L619.65,462.21 L620.02,462.3 L620.39,462.38 L620.76,462.47 L621.13,462.56 L621.51,462.65 L621.88,462.74 L622.25,462.84 L622.62,462.95 L622.99,463.05 L623.36,463.16 L623.73,463.27 L624.1,463.39 L624.47,463.5 L624.84,463.63 L625.21,463.75 L625.58,463.88 L625.95,464.01 L626.32,464.15 L626.69,464.29 L627.06,464.43 L627.44,464.58 L627.81,464.73 L628.18,464.88 L628.55,465.04 L628.92,465.2 L629.29,465.37 L629.66,465.54 L630.03,465.71 L630.4,465.89" stroke="#ee1c1c" stroke-width="1.8" fill="none"/>
<path d="M408.4,562.29 L408.77,560.53 L409.14,555.56 L409.51,549.8 L409.88,544.37 L410.25,539.55 L410.62,535.31 L410.99,531.56 L411.36,528.21 L411.74,525.2 L412.11,522.48 L412.48,519.99 L412.85,517.7 L413.22,515.59 L413.59,513.63 L413.96,511.8 L414.33,510.09 L414.7,508.49 L415.07,506.97 L415.44,505.55 L415.81,504.19 L416.18,502.9 L416.55,501.68 L416.92,500.51 L417.29,499.4 L417.67,498.33 L418.04,497.31 L418.41,496.33 L418.78,495.39 L419.15,494.48 L419.52,493.61 L419.89,492.77 L420.26,491.97 L420.63,491.19 L421,490.43 L421.37,489.71 L421.74,489 L422.11,488.32 L422.48,487.67 L422.85,487.03 L423.22,486.41 L423.6,485.81 L423.97,485.22 L424.34,484.65 L424.71,484.1 L425.08,483.56 L425.45,483.03 L425.82,482.51 L426.19,482 L426.56,481.5 L426.93,481.01 L427.3,480.54 L427.67,480.06 L428.04,479.6 L428.41,479.14 L428.78,478.69 L429.15,478.25 L429.53,477.81 L429.9,477.38 L430.27,476.95 L430.64,476.53 L431.01,476.11 L431.38,475.69 L431.75,475.28 L432.12,474.87 L432.49,474.47 L432.86,474.06 L433.23,473.66 L433.6,473.26 L433.97,472.87 L434.34,472.47 L434.71,472.08 L435.08,471.69 L435.46,471.3 L435.83,470.92 L436.2,470.54 L436.57,470.16 L436.94,469.79 L437.31,469.43 L437.68,469.07 L438.05,468.71 L438.42,468.37 L438.79,468.03 L439.16,467.7 L439.53,467.37 L439.9,467.06 L440.27,466.74 L440.64,466.44 L441.01,466.14 L441.38,465.85 L441.76,465.57 L442.13,465.29 L442.5,465.01 L442.87,464.74 L443.24,464.48 L443.61,464.22 L443.98,463.97 L444.35,463.72 L444.72,463.48 L445.09,463.24 L445.46,463 L445.83,462.77 L446.2,462.55 L446.57,462.33 L446.94,462.11 L447.31,461.9 L447.69,461.69 L448.06,461.48 L448.43,461.28 L448.8,461.08 L449.17,460.89 L449.54,460.7 L449.91,460.51 L450.28,460.33 L450.65,460.15 L451.02,459.97 L451.39,459.8 L451.76,459.63 L452.13,459.46 L452.5,459.29 L452.87,459.13 L453.24,458.97 L453.62,458.82 L453.99,458.66 L454.36,458.51 L454.73,458.36 L455.1,458.22 L455.47,458.07 L455.84,457.93 L456.21,457.8 L456.58,457.66 L456.95,457.53 L457.32,457.4 L457.69,457.27 L458.06,457.14 L458.43,457.02 L458.8,456.9 L459.17,456.78 L459.55,456.66 L459.92,456.54 L460.29,456.43 L460.66,456.32 L461.03,456.21 L461.4,456.1 L461.77,456 L462.14,455.89 L462.51,455.79 L462.88,455.69 L463.25,455.59 L463.62,455.5 L463.99,455.4 L464.36,455.31 L464.73,455.22 L465.1,455.13 L465.48,455.04 L465.85,454.96 L466.22,454.87 L466.59,454.79 L466.96,454.71 L467.33,454.63 L467.7,454.55 L468.07,454.48 L468.44,454.4 L468.81,454.33 L469.18,454.26 L469.55,454.18 L469.92,454.12 L470.29,454.05 L470.66,453.98 L471.03,453.92 L471.41,453.85 L471.78,453.79 L472.15,453.73 L472.52,453.67 L472.89,453.61 L473.26,453.56 L473.63,453.5 L474,453.45 L474.37,453.39 L474.74,453.34 L475.11,453.29 L475.48,453.24 L475.85,453.19 L476.22,453.14 L476.59,453.1 L476.96,453.05 L477.33,453.01 L477.71,452.97 L478.08,452.92 L478.45,452.88 L478.82,452.84 L479.19,452.81 L479.56,452.77 L479.93,452.73 L480.3,452.7 L480.67,452.66 L481.04,452.63 L481.41,452.59 L481.78,452.56 L482.15,452.53 L482.52,452.5 L482.89,452.47 L483.26,452.44 L483.64,452.42 L484.01,452.39 L484.38,452.37 L484.75,452.34 L485.12,452.32 L485.49,452.29 L485.86,452.27 L486.23,452.25 L486.6,452.23 L486.97,452.21 L487.34,452.19 L487.71,452.17 L488.08,452.16 L488.45,452.14 L488.82,452.12 L489.19,452.11 L489.57,452.09 L489.94,452.08 L490.31,452.06 L490.68,452.05 L491.05,452.04 L491.42,452.03 L491.79,452.02 L492.16,452.01 L492.53,452 L492.9,451.99 L493.27,451.98 L493.64,451.98 L494.01,451.97 L494.38,451.97 L494.75,451.96 L495.12,451.96 L495.5,451.96 L495.87,451.96 L496.24,451.96 L496.61,451.96 L496.98,451.96 L497.35,451.97 L497.72,451.97 L498.09,451.98 L498.46,451.98 L498.83,451.99 L499.2,452 L499.57,452.01 L499.94,452.02 L500.31,452.04 L500.68,452.05 L501.05,452.07 L501.43,452.08 L501.8,452.1 L502.17,452.12 L502.54,452.14 L502.91,452.16 L503.28,452.19 L503.65,452.21 L504.02,452.24 L504.39,452.27 L504.76,452.3 L505.13,452.33 L505.5,452.36 L505.87,452.39 L506.24,452.43 L506.61,452.46 L506.98,452.5 L507.35,452.54 L507.73,452.58 L508.1,452.62 L508.47,452.67 L508.84,452.71 L509.21,452.76 L509.58,452.81 L509.95,452.86 L510.32,452.91 L510.69,452.96 L511.06,453.01 L511.43,453.07 L511.8,453.13 L512.17,453.19 L512.54,453.25 L512.91,453.31 L513.28,453.37 L513.66,453.44 L514.03,453.5 L514.4,453.57 L514.77,453.64 L515.14,453.71 L515.51,453.79 L515.88,453.86 L516.25,453.94 L516.62,454.02 L516.99,454.1 L517.36,454.18 L517.73,454.26 L518.1,454.35 L518.47,454.44 L518.84,454.53 L519.21,454.62 L519.59,454.71 L519.96,454.8 L520.33,454.9 L520.7,455 L521.07,455.1 L521.44,455.2 L521.81,455.31 L522.18,455.41 L522.55,455.52 L522.92,455.63 L523.29,455.74 L523.66,455.86 L524.03,455.97 L524.4,456.09 L524.77,456.21 L525.14,456.34 L525.52,456.46 L525.89,456.59 L526.26,456.72 L526.63,456.85 L527,456.99 L527.37,457.12 L527.74,457.26 L528.11,457.41 L528.48,457.55 L528.85,457.7 L529.22,457.85 L529.59,458 L529.96,458.15 L530.33,458.31 L530.7,458.47 L531.07,458.63 L531.45,458.8 L531.82,458.97 L532.19,459.14 L532.56,459.32 L532.93,459.49 L533.3,459.68 L533.67,459.86 L534.04,460.05 L534.41,460.24 L534.78,460.43 L535.15,460.63 L535.52,460.83 L535.89,461.04 L536.26,461.24 L536.63,461.46 L537,461.67 L537.37,461.89 L537.75,462.12 L538.12,462.34 L538.49,462.57 L538.86,462.81 L539.23,463.05 L539.6,463.3 L539.97,463.55 L540.34,463.8 L540.71,464.06 L541.08,464.32 L541.45,464.59 L541.82,464.86 L542.19,465.14 L542.56,465.43 L542.93,465.72 L543.3,466.01 L543.68,466.32 L544.05,466.62 L544.42,466.94 L544.79,467.25 L545.16,467.58 L545.53,467.91 L545.9,468.24 L546.27,468.58 L546.64,468.93 L547.01,469.28 L547.38,469.63 L547.75,469.99 L548.12,470.35 L548.49,470.71 L548.86,471.08 L549.23,471.46 L549.61,471.83 L549.98,472.21 L550.35,472.59 L550.72,472.97 L551.09,473.36 L551.46,473.74 L551.83,474.13 L552.2,474.51 L552.57,474.9 L552.94,475.29 L553.31,475.67 L553.68,476.05 L554.05,476.43 L554.42,476.81 L554.79,477.19 L555.16,477.57 L555.54,477.94 L555.91,478.31 L556.28,478.68 L556.65,479.05 L557.02,479.42 L557.39,479.79 L557.76,480.15 L558.13,480.52 L558.5,480.89 L558.87,481.25 L559.24,481.62 L559.61,481.99 L559.98,482.36 L560.35,482.73 L560.72,483.11 L561.09,483.49 L561.47,483.87 L561.84,484.25 L562.21,484.64 L562.58,485.03 L562.95,485.42 L563.32,485.83 L563.69,486.23 L564.06,486.65 L564.43,487.07 L564.8,487.5 L565.17,487.94 L565.54,488.39 L565.91,488.85 L566.28,489.33 L566.65,489.81 L567.02,490.31 L567.39,490.82 L567.77,491.35 L568.14,491.89 L568.51,492.45 L568.88,493.03 L569.25,493.63 L569.62,494.25 L569.99,494.88 L570.36,495.54 L570.73,496.22 L571.1,496.93 L571.47,497.66 L571.84,498.42 L572.21,499.21 L572.58,500.03 L572.95,500.88 L573.32,501.77 L573.7,502.7 L574.07,503.67 L574.44,504.68 L574.81,505.74 L575.18,506.85 L575.55,508.02 L575.92,509.24 L576.29,510.53 L576.66,511.89 L577.03,513.33 L577.4,514.86 L577.56,515.56 L577.64,515.88 L577.71,516.21 L577.77,516.48 L577.79,516.54 L577.86,516.88 L577.93,517.22 L578.01,517.56 L578.08,517.91 L578.14,518.2 L578.16,518.26 L578.23,518.62 L578.3,518.98 L578.38,519.35 L578.45,519.72 L578.51,520.03 L578.53,520.09 L578.6,520.47 L578.67,520.86 L578.75,521.25 L578.82,521.64 L578.88,521.97 L578.9,522.04 L578.97,522.44 L579.04,522.85 L579.12,523.27 L579.19,523.69 L579.25,524.04 L579.27,524.11 L579.34,524.54 L579.41,524.97 L579.49,525.41 L579.56,525.86 L579.63,526.24 L579.64,526.31 L579.71,526.76 L579.78,527.22 L579.86,527.68 L579.93,528.15 L580,528.56 L580.01,528.63 L580.08,529.1 L580.15,529.59 L580.23,530.07 L580.3,530.56 L580.37,530.99 L580.38,531.05 L580.45,531.54 L580.52,532.04 L580.6,532.54 L580.67,533.03 L580.74,533.47 L580.75,533.53 L580.82,534.02 L580.89,534.51 L580.97,535 L581.04,535.47 L581.11,535.89 L581.12,535.95 L581.19,536.41 L581.26,536.86 L581.34,537.29 L581.41,537.71 L581.48,538.08 L581.49,538.12 L581.56,538.5 L581.63,538.85 L581.71,539.19 L581.78,539.49 L581.85,539.74 L581.86,539.76 L581.93,540 L582,540.2 L582.08,540.37 L582.15,540.49 L582.22,540.57 L582.23,540.58 L582.3,540.62 L582.37,540.62 L582.45,540.57 L582.52,540.49 L582.59,540.37 L582.6,540.36 L582.67,540.18 L582.74,539.97 L582.82,539.72 L582.89,539.43 L582.96,539.13 L582.97,539.11 L583.04,538.76 L583.11,538.37 L583.19,537.96 L583.26,537.53 L583.33,537.1 L583.34,537.07 L583.41,536.6 L583.48,536.1 L583.56,535.6 L583.63,535.08 L583.7,534.58 L583.71,534.55 L583.78,534.01 L583.85,533.47 L583.93,532.92 L584,532.37 L584.07,531.84 L584.08,531.82 L584.15,531.26 L584.22,530.71 L584.3,530.15 L584.37,529.6 L584.44,529.07 L584.45,529.05 L584.52,528.51 L584.59,527.97 L584.67,527.43 L584.74,526.9 L584.81,526.38 L584.82,526.37 L584.89,525.84 L584.96,525.33 L585.04,524.81 L585.11,524.31 L585.18,523.81 L585.19,523.81 L585.26,523.31 L585.33,522.82 L585.41,522.34 L585.48,521.86 L585.56,521.39 L585.56,521.39 L585.63,520.92 L585.7,520.46 L585.78,520.01 L585.85,519.56 L585.93,519.12 L585.93,519.12 L586,518.68 L586.07,518.25 L586.15,517.82 L586.22,517.4 L586.3,516.99 L586.3,516.98 L586.37,516.58 L586.44,516.17 L586.67,514.98 L587.04,513.11 L587.41,511.35 L587.78,509.7 L588.15,508.14 L588.52,506.67 L588.89,505.28 L589.26,503.96 L589.63,502.71 L590,501.52 L590.37,500.39 L590.74,499.3 L591.11,498.26 L591.49,497.27 L591.86,496.31 L592.23,495.39 L592.6,494.5 L592.97,493.65 L593.34,492.82 L593.71,492.02 L594.08,491.24 L594.45,490.49 L594.82,489.76 L595.19,489.05 L595.56,488.36 L595.93,487.68 L596.3,487.02 L596.67,486.38 L597.04,485.75 L597.42,485.14 L597.79,484.54 L598.16,483.95 L598.53,483.38 L598.9,482.82 L599.27,482.27 L599.64,481.73 L600.01,481.2 L600.38,480.68 L600.75,480.17 L601.12,479.68 L601.49,479.19 L601.86,478.71 L602.23,478.24 L602.6,477.78 L602.97,477.33 L603.34,476.89 L603.72,476.46 L604.09,476.03 L604.46,475.61 L604.83,475.2 L605.2,474.8 L605.57,474.41 L605.94,474.02 L606.31,473.64 L606.68,473.27 L607.05,472.9 L607.42,472.54 L607.79,472.19 L608.16,471.84 L608.53,471.5 L608.9,471.16 L609.27,470.84 L609.65,470.51 L610.02,470.2 L610.39,469.89 L610.76,469.58 L611.13,469.28 L611.5,468.99 L611.87,468.7 L612.24,468.42 L612.61,468.14 L612.98,467.87 L613.35,467.6 L613.72,467.34 L614.09,467.08 L614.46,466.83 L614.83,466.59 L615.2,466.34 L615.58,466.11 L615.95,465.87 L616.32,465.65 L616.69,465.42 L617.06,465.2 L617.43,464.99 L617.8,464.78 L618.17,464.58 L618.54,464.38 L618.91,464.18 L619.28,463.99 L619.65,463.8 L620.02,463.62 L620.39,463.44 L620.76,463.27 L621.13,463.1 L621.51,462.93 L621.88,462.77 L622.25,462.61 L622.62,462.46 L622.99,462.31 L623.36,462.17 L623.73,462.03 L624.1,461.89 L624.47,461.76 L624.84,461.63 L625.21,461.51 L625.58,461.39 L625.95,461.27 L626.32,461.16 L626.69,461.05 L627.06,460.95 L627.44,460.85 L627.81,460.75 L628.18,460.66 L628.55,460.58 L628.92,460.49 L629.29,460.42 L629.66,460.34 L630.03,460.27 L630.4,460.2" stroke="#1c1ce6" stroke-width="1.8" fill="none"/>
<path d="M408.4,561.99 L408.77,561.3 L409.14,556.69 L409.51,550.87 L409.88,545.33 L410.25,540.42 L410.62,536.13 L410.99,532.35 L411.36,529 L411.74,525.99 L412.11,523.28 L412.48,520.81 L412.85,518.55 L413.22,516.46 L413.59,514.52 L413.96,512.72 L414.33,511.03 L414.7,509.44 L415.07,507.94 L415.44,506.53 L415.81,505.19 L416.18,503.92 L416.55,502.72 L416.92,501.56 L417.29,500.47 L417.67,499.41 L418.04,498.41 L418.41,497.44 L418.78,496.52 L419.15,495.63 L419.52,494.77 L419.89,493.95 L420.26,493.16 L420.63,492.39 L421,491.66 L421.37,490.95 L421.74,490.26 L422.11,489.6 L422.48,488.96 L422.85,488.34 L423.22,487.73 L423.6,487.15 L423.97,486.59 L424.34,486.04 L424.71,485.5 L425.08,484.98 L425.45,484.47 L425.82,483.98 L426.19,483.5 L426.56,483.03 L426.93,482.57 L427.3,482.12 L427.67,481.68 L428.04,481.25 L428.41,480.83 L428.78,480.41 L429.15,480 L429.53,479.61 L429.9,479.21 L430.27,478.83 L430.64,478.45 L431.01,478.08 L431.38,477.71 L431.75,477.35 L432.12,476.99 L432.49,476.64 L432.86,476.29 L433.23,475.95 L433.6,475.61 L433.97,475.27 L434.34,474.94 L434.71,474.61 L435.08,474.29 L435.46,473.97 L435.83,473.65 L436.2,473.33 L436.57,473.02 L436.94,472.71 L437.31,472.4 L437.68,472.09 L438.05,471.79 L438.42,471.49 L438.79,471.2 L439.16,470.91 L439.53,470.62 L439.9,470.33 L440.27,470.05 L440.64,469.78 L441.01,469.51 L441.38,469.24 L441.76,468.97 L442.13,468.72 L442.5,468.46 L442.87,468.21 L443.24,467.96 L443.61,467.72 L443.98,467.48 L444.35,467.25 L444.72,467.02 L445.09,466.8 L445.46,466.58 L445.83,466.37 L446.2,466.16 L446.57,465.96 L446.94,465.76 L447.31,465.57 L447.69,465.38 L448.06,465.2 L448.43,465.02 L448.8,464.85 L449.17,464.68 L449.54,464.52 L449.91,464.36 L450.28,464.2 L450.65,464.05 L451.02,463.91 L451.39,463.76 L451.76,463.63 L452.13,463.49 L452.5,463.36 L452.87,463.23 L453.24,463.11 L453.62,462.99 L453.99,462.88 L454.36,462.76 L454.73,462.65 L455.1,462.55 L455.47,462.45 L455.84,462.35 L456.21,462.25 L456.58,462.16 L456.95,462.07 L457.32,461.98 L457.69,461.89 L458.06,461.81 L458.43,461.73 L458.8,461.66 L459.17,461.58 L459.55,461.51 L459.92,461.44 L460.29,461.38 L460.66,461.31 L461.03,461.25 L461.4,461.19 L461.77,461.13 L462.14,461.08 L462.51,461.03 L462.88,460.98 L463.25,460.93 L463.62,460.88 L463.99,460.84 L464.36,460.8 L464.73,460.76 L465.1,460.72 L465.48,460.68 L465.85,460.65 L466.22,460.62 L466.59,460.59 L466.96,460.56 L467.33,460.53 L467.7,460.51 L468.07,460.48 L468.44,460.46 L468.81,460.44 L469.18,460.42 L469.55,460.41 L469.92,460.39 L470.29,460.38 L470.66,460.36 L471.03,460.35 L471.41,460.34 L471.78,460.33 L472.15,460.33 L472.52,460.32 L472.89,460.32 L473.26,460.31 L473.63,460.31 L474,460.31 L474.37,460.31 L474.74,460.31 L475.11,460.32 L475.48,460.32 L475.85,460.33 L476.22,460.33 L476.59,460.34 L476.96,460.35 L477.33,460.36 L477.71,460.37 L478.08,460.39 L478.45,460.4 L478.82,460.42 L479.19,460.43 L479.56,460.45 L479.93,460.47 L480.3,460.49 L480.67,460.52 L481.04,460.54 L481.41,460.56 L481.78,460.59 L482.15,460.62 L482.52,460.65 L482.89,460.68 L483.26,460.71 L483.64,460.75 L484.01,460.78 L484.38,460.82 L484.75,460.86 L485.12,460.9 L485.49,460.94 L485.86,460.98 L486.23,461.03 L486.6,461.07 L486.97,461.12 L487.34,461.17 L487.71,461.22 L488.08,461.28 L488.45,461.33 L488.82,461.39 L489.19,461.45 L489.57,461.51 L489.94,461.57 L490.31,461.63 L490.68,461.7 L491.05,461.77 L491.42,461.83 L491.79,461.91 L492.16,461.98 L492.53,462.05 L492.9,462.13 L493.27,462.21 L493.64,462.29 L494.01,462.37 L494.38,462.46 L494.75,462.55 L495.12,462.64 L495.5,462.73 L495.87,462.82 L496.24,462.92 L496.61,463.02 L496.98,463.12 L497.35,463.22 L497.72,463.33 L498.09,463.43 L498.46,463.54 L498.83,463.66 L499.2,463.77 L499.57,463.89 L499.94,464.01 L500.31,464.13 L500.68,464.26 L501.05,464.39 L501.43,464.52 L501.8,464.65 L502.17,464.79 L502.54,464.93 L502.91,465.07 L503.28,465.22 L503.65,465.37 L504.02,465.52 L504.39,465.68 L504.76,465.84 L505.13,466 L505.5,466.17 L505.87,466.34 L506.24,466.51 L506.61,466.69 L506.98,466.87 L507.35,467.05 L507.73,467.24 L508.1,467.43 L508.47,467.63 L508.84,467.83 L509.21,468.03 L509.58,468.24 L509.95,468.46 L510.32,468.67 L510.69,468.9 L511.06,469.13 L511.43,469.36 L511.8,469.6 L512.17,469.84 L512.54,470.09 L512.91,470.34 L513.28,470.6 L513.66,470.87 L514.03,471.14 L514.4,471.41 L514.77,471.69 L515.14,471.98 L515.51,472.27 L515.88,472.57 L516.25,472.88 L516.62,473.19 L516.99,473.51 L517.36,473.84 L517.73,474.17 L518.1,474.51 L518.47,474.85 L518.84,475.21 L519.21,475.57 L519.59,475.94 L519.96,476.31 L520.33,476.7 L520.7,477.09 L521.07,477.49 L521.44,477.9 L521.81,478.32 L522.18,478.75 L522.55,479.19 L522.92,479.63 L523.29,480.09 L523.66,480.56 L524.03,481.04 L524.4,481.53 L524.77,482.03 L525.14,482.54 L525.52,483.07 L525.89,483.61 L526.26,484.16 L526.63,484.73 L527,485.31 L527.37,485.91 L527.74,486.52 L528.11,487.15 L528.48,487.8 L528.85,488.46 L529.22,489.15 L529.59,489.85 L529.96,490.58 L530.33,491.32 L530.7,492.09 L531.07,492.89 L531.45,493.71 L531.82,494.56 L532.19,495.45 L532.56,496.36 L532.93,497.31 L533.3,498.29 L533.67,499.31 L534.04,500.38 L534.41,501.49 L534.78,502.65 L535.15,503.86 L535.52,505.14 L535.89,506.48 L536.26,507.89 L536.63,509.38 L537,510.96 L537.37,512.63 L537.75,514.42 L538.12,516.34 L538.49,518.4 L538.64,519.29 L538.71,519.74 L538.79,520.19 L538.86,520.62 L538.86,520.65 L538.94,521.12 L539.01,521.59 L539.08,522.08 L539.16,522.57 L539.23,523.04 L539.23,523.07 L539.31,523.58 L539.38,524.1 L539.45,524.63 L539.53,525.17 L539.6,525.7 L539.6,525.72 L539.68,526.28 L539.75,526.85 L539.82,527.44 L539.9,528.03 L539.97,528.62 L539.97,528.64 L540.05,529.26 L540.12,529.9 L540.19,530.55 L540.27,531.21 L540.34,531.87 L540.34,531.89 L540.42,532.58 L540.49,533.3 L540.56,534.02 L540.64,534.77 L540.71,535.52 L540.71,535.53 L540.79,536.31 L540.86,537.11 L540.93,537.94 L541.01,538.78 L541.08,539.63 L541.08,539.64 L541.16,540.53 L541.23,541.43 L541.3,542.36 L541.38,543.31 L541.45,544.28 L541.45,544.29 L541.53,545.28 L541.6,546.3 L541.67,547.33 L541.75,548.38 L541.82,549.45 L541.82,549.46 L541.9,550.53 L541.97,551.61 L542.04,552.68 L542.12,553.75 L542.19,554.78 L542.19,554.8 L542.27,555.79 L542.34,556.73 L542.41,557.61 L542.49,558.39 L542.56,559.05 L542.56,559.07 L542.64,559.58 L542.71,559.96 L542.78,560.16 L542.86,560.19 L542.93,560.04 L542.93,560.03 L543.01,559.72 L543.08,559.24 L543.15,558.62 L543.23,557.87 L543.3,557.03 L543.3,557 L543.38,556.11 L543.45,555.13 L543.52,554.11 L543.6,553.06 L543.67,551.99 L543.68,551.94 L543.75,550.92 L543.82,549.86 L543.89,548.8 L543.97,547.75 L544.04,546.72 L544.05,546.66 L544.12,545.71 L544.19,544.72 L544.26,543.75 L544.34,542.8 L544.41,541.87 L544.42,541.82 L544.49,540.97 L544.56,540.09 L544.63,539.23 L544.71,538.39 L544.78,537.57 L544.79,537.51 L544.86,536.78 L544.93,536 L545,535.24 L545.08,534.5 L545.15,533.77 L545.16,533.72 L545.23,533.07 L545.3,532.38 L545.37,531.71 L545.45,531.05 L545.52,530.4 L545.53,530.35 L545.6,529.77 L545.67,529.16 L545.74,528.55 L545.82,527.96 L545.89,527.39 L545.9,527.33 L545.97,526.82 L546.04,526.26 L546.11,525.72 L546.19,525.19 L546.26,524.66 L546.27,524.61 L546.34,524.15 L546.41,523.65 L546.48,523.15 L546.56,522.66 L546.63,522.19 L546.64,522.13 L546.71,521.72 L546.78,521.26 L546.85,520.8 L546.93,520.36 L547,519.92 L547.01,519.87 L547.08,519.49 L547.15,519.07 L547.22,518.65 L547.3,518.24 L547.37,517.83 L547.38,517.78 L547.45,517.43 L547.52,517.04 L547.75,515.85 L548.12,514.05 L548.49,512.37 L548.86,510.79 L549.23,509.3 L549.61,507.9 L549.98,506.57 L550.35,505.31 L550.72,504.11 L551.09,502.96 L551.46,501.87 L551.83,500.82 L552.2,499.81 L552.57,498.85 L552.94,497.92 L553.31,497.03 L553.68,496.17 L554.05,495.34 L554.42,494.53 L554.79,493.76 L555.16,493 L555.54,492.28 L555.91,491.57 L556.28,490.89 L556.65,490.22 L557.02,489.57 L557.39,488.95 L557.76,488.33 L558.13,487.74 L558.5,487.16 L558.87,486.59 L559.24,486.04 L559.61,485.5 L559.98,484.98 L560.35,484.47 L560.72,483.97 L561.09,483.48 L561.47,483 L561.84,482.53 L562.21,482.07 L562.58,481.63 L562.95,481.19 L563.32,480.76 L563.69,480.34 L564.06,479.93 L564.43,479.53 L564.8,479.13 L565.17,478.74 L565.54,478.36 L565.91,477.99 L566.28,477.63 L566.65,477.27 L567.02,476.92 L567.39,476.57 L567.77,476.23 L568.14,475.9 L568.51,475.58 L568.88,475.26 L569.25,474.94 L569.62,474.63 L569.99,474.33 L570.36,474.03 L570.73,473.74 L571.1,473.45 L571.47,473.17 L571.84,472.89 L572.21,472.62 L572.58,472.35 L572.95,472.08 L573.32,471.82 L573.7,471.57 L574.07,471.32 L574.44,471.07 L574.81,470.83 L575.18,470.59 L575.55,470.36 L575.92,470.13 L576.29,469.9 L576.66,469.68 L577.03,469.46 L577.4,469.24 L577.77,469.03 L578.14,468.83 L578.51,468.62 L578.88,468.42 L579.25,468.22 L579.63,468.03 L580,467.84 L580.37,467.65 L580.74,467.46 L581.11,467.28 L581.48,467.1 L581.85,466.93 L582.22,466.76 L582.59,466.59 L582.96,466.42 L583.33,466.26 L583.7,466.1 L584.07,465.94 L584.44,465.79 L584.81,465.63 L585.18,465.49 L585.56,465.34 L585.93,465.2 L586.3,465.05 L586.67,464.92 L587.04,464.78 L587.41,464.65 L587.78,464.52 L588.15,464.39 L588.52,464.26 L588.89,464.14 L589.26,464.02 L589.63,463.9 L590,463.79 L590.37,463.68 L590.74,463.57 L591.11,463.46 L591.49,463.35 L591.86,463.25 L592.23,463.15 L592.6,463.05 L592.97,462.95 L593.34,462.86 L593.71,462.77 L594.08,462.68 L594.45,462.59 L594.82,462.51 L595.19,462.43 L595.56,462.35 L595.93,462.27 L596.3,462.19 L596.67,462.12 L597.04,462.05 L597.42,461.98 L597.79,461.92 L598.16,461.85 L598.53,461.79 L598.9,461.73 L599.27,461.67 L599.64,461.62 L600.01,461.56 L600.38,461.51 L600.75,461.47 L601.12,461.42 L601.49,461.38 L601.86,461.33 L602.23,461.29 L602.6,461.26 L602.97,461.22 L603.34,461.19 L603.72,461.16 L604.09,461.13 L604.46,461.1 L604.83,461.08 L605.2,461.06 L605.57,461.04 L605.94,461.02 L606.31,461.01 L606.68,461 L607.05,460.99 L607.42,460.98 L607.79,460.97 L608.16,460.97 L608.53,460.97 L608.9,460.97 L609.27,460.97 L609.65,460.98 L610.02,460.99 L610.39,461 L610.76,461.01 L611.13,461.03 L611.5,461.05 L611.87,461.07 L612.24,461.09 L612.61,461.12 L612.98,461.15 L613.35,461.18 L613.72,461.21 L614.09,461.25 L614.46,461.28 L614.83,461.33 L615.2,461.37 L615.58,461.42 L615.95,461.47 L616.32,461.52 L616.69,461.57 L617.06,461.63 L617.43,461.69 L617.8,461.75 L618.17,461.82 L618.54,461.89 L618.91,461.96 L619.28,462.04 L619.65,462.12 L620.02,462.2 L620.39,462.28 L620.76,462.37 L621.13,462.46 L621.51,462.55 L621.88,462.65 L622.25,462.75 L622.62,462.86 L622.99,462.96 L623.36,463.07 L623.73,463.19 L624.1,463.31 L624.47,463.43 L624.84,463.55 L625.21,463.68 L625.58,463.82 L625.95,463.95 L626.32,464.1 L626.69,464.24 L627.06,464.39 L627.44,464.54 L627.81,464.7 L628.18,464.86 L628.55,465.03 L628.92,465.2 L629.29,465.38 L629.66,465.56 L630.03,465.75 L630.4,465.94" stroke="#111" stroke-width="1.5" fill="none" stroke-dasharray="3.6,1.3,1.2,1.3"/>
<path d="M408.4,562.32 L408.77,560.38 L409.14,555.39 L409.51,549.69 L409.88,544.34 L410.25,539.58 L410.62,535.38 L410.99,531.67 L411.36,528.35 L411.74,525.36 L412.11,522.64 L412.48,520.16 L412.85,517.87 L413.22,515.76 L413.59,513.79 L413.96,511.94 L414.33,510.22 L414.7,508.59 L415.07,507.06 L415.44,505.61 L415.81,504.24 L416.18,502.93 L416.55,501.68 L416.92,500.5 L417.29,499.37 L417.67,498.28 L418.04,497.24 L418.41,496.25 L418.78,495.3 L419.15,494.38 L419.52,493.5 L419.89,492.65 L420.26,491.84 L420.63,491.05 L421,490.3 L421.37,489.57 L421.74,488.87 L422.11,488.19 L422.48,487.54 L422.85,486.91 L423.22,486.3 L423.6,485.71 L423.97,485.13 L424.34,484.57 L424.71,484.03 L425.08,483.5 L425.45,482.98 L425.82,482.47 L426.19,481.98 L426.56,481.49 L426.93,481.02 L427.3,480.55 L427.67,480.09 L428.04,479.64 L428.41,479.19 L428.78,478.75 L429.15,478.31 L429.53,477.88 L429.9,477.46 L430.27,477.04 L430.64,476.62 L431.01,476.2 L431.38,475.79 L431.75,475.38 L432.12,474.97 L432.49,474.57 L432.86,474.16 L433.23,473.76 L433.6,473.36 L433.97,472.96 L434.34,472.56 L434.71,472.16 L435.08,471.76 L435.46,471.36 L435.83,470.97 L436.2,470.58 L436.57,470.19 L436.94,469.81 L437.31,469.43 L437.68,469.06 L438.05,468.7 L438.42,468.34 L438.79,467.99 L439.16,467.65 L439.53,467.32 L439.9,467 L440.27,466.68 L440.64,466.37 L441.01,466.07 L441.38,465.77 L441.76,465.48 L442.13,465.2 L442.5,464.93 L442.87,464.65 L443.24,464.39 L443.61,464.13 L443.98,463.88 L444.35,463.63 L444.72,463.38 L445.09,463.14 L445.46,462.91 L445.83,462.68 L446.2,462.46 L446.57,462.24 L446.94,462.02 L447.31,461.81 L447.69,461.6 L448.06,461.4 L448.43,461.2 L448.8,461.01 L449.17,460.82 L449.54,460.63 L449.91,460.44 L450.28,460.26 L450.65,460.09 L451.02,459.91 L451.39,459.74 L451.76,459.57 L452.13,459.41 L452.5,459.25 L452.87,459.09 L453.24,458.94 L453.62,458.78 L453.99,458.63 L454.36,458.49 L454.73,458.34 L455.1,458.2 L455.47,458.06 L455.84,457.93 L456.21,457.79 L456.58,457.66 L456.95,457.53 L457.32,457.4 L457.69,457.28 L458.06,457.16 L458.43,457.04 L458.8,456.92 L459.17,456.8 L459.55,456.69 L459.92,456.58 L460.29,456.47 L460.66,456.36 L461.03,456.25 L461.4,456.15 L461.77,456.05 L462.14,455.95 L462.51,455.85 L462.88,455.75 L463.25,455.66 L463.62,455.56 L463.99,455.47 L464.36,455.38 L464.73,455.29 L465.1,455.2 L465.48,455.12 L465.85,455.03 L466.22,454.95 L466.59,454.87 L466.96,454.79 L467.33,454.71 L467.7,454.63 L468.07,454.56 L468.44,454.48 L468.81,454.41 L469.18,454.34 L469.55,454.27 L469.92,454.2 L470.29,454.13 L470.66,454.06 L471.03,454 L471.41,453.93 L471.78,453.87 L472.15,453.8 L472.52,453.74 L472.89,453.68 L473.26,453.62 L473.63,453.56 L474,453.51 L474.37,453.45 L474.74,453.39 L475.11,453.34 L475.48,453.29 L475.85,453.23 L476.22,453.18 L476.59,453.13 L476.96,453.08 L477.33,453.03 L477.71,452.98 L478.08,452.94 L478.45,452.89 L478.82,452.85 L479.19,452.8 L479.56,452.76 L479.93,452.72 L480.3,452.68 L480.67,452.64 L481.04,452.6 L481.41,452.56 L481.78,452.52 L482.15,452.49 L482.52,452.45 L482.89,452.42 L483.26,452.38 L483.64,452.35 L484.01,452.32 L484.38,452.29 L484.75,452.26 L485.12,452.24 L485.49,452.21 L485.86,452.18 L486.23,452.16 L486.6,452.14 L486.97,452.11 L487.34,452.09 L487.71,452.07 L488.08,452.05 L488.45,452.03 L488.82,452.02 L489.19,452 L489.57,451.99 L489.94,451.97 L490.31,451.96 L490.68,451.95 L491.05,451.94 L491.42,451.93 L491.79,451.92 L492.16,451.91 L492.53,451.91 L492.9,451.9 L493.27,451.9 L493.64,451.9 L494.01,451.89 L494.38,451.89 L494.75,451.89 L495.12,451.9 L495.5,451.9 L495.87,451.9 L496.24,451.91 L496.61,451.92 L496.98,451.93 L497.35,451.93 L497.72,451.95 L498.09,451.96 L498.46,451.97 L498.83,451.98 L499.2,452 L499.57,452.02 L499.94,452.04 L500.31,452.05 L500.68,452.08 L501.05,452.1 L501.43,452.12 L501.8,452.15 L502.17,452.17 L502.54,452.2 L502.91,452.23 L503.28,452.26 L503.65,452.29 L504.02,452.32 L504.39,452.36 L504.76,452.39 L505.13,452.43 L505.5,452.46 L505.87,452.5 L506.24,452.54 L506.61,452.58 L506.98,452.62 L507.35,452.66 L507.73,452.71 L508.1,452.75 L508.47,452.8 L508.84,452.84 L509.21,452.89 L509.58,452.94 L509.95,452.98 L510.32,453.03 L510.69,453.08 L511.06,453.13 L511.43,453.18 L511.8,453.24 L512.17,453.29 L512.54,453.34 L512.91,453.4 L513.28,453.45 L513.66,453.51 L514.03,453.56 L514.4,453.62 L514.77,453.68 L515.14,453.74 L515.51,453.8 L515.88,453.86 L516.25,453.92 L516.62,453.99 L516.99,454.06 L517.36,454.13 L517.73,454.2 L518.1,454.27 L518.47,454.35 L518.84,454.42 L519.21,454.5 L519.59,454.58 L519.96,454.67 L520.33,454.76 L520.7,454.85 L521.07,454.94 L521.44,455.04 L521.81,455.13 L522.18,455.24 L522.55,455.34 L522.92,455.45 L523.29,455.57 L523.66,455.68 L524.03,455.8 L524.4,455.93 L524.77,456.05 L525.14,456.18 L525.52,456.32 L525.89,456.46 L526.26,456.6 L526.63,456.75 L527,456.9 L527.37,457.05 L527.74,457.21 L528.11,457.37 L528.48,457.53 L528.85,457.7 L529.22,457.88 L529.59,458.05 L529.96,458.24 L530.33,458.42 L530.7,458.61 L531.07,458.8 L531.45,459 L531.82,459.2 L532.19,459.41 L532.56,459.62 L532.93,459.84 L533.3,460.05 L533.67,460.28 L534.04,460.51 L534.41,460.74 L534.78,460.98 L535.15,461.22 L535.52,461.47 L535.89,461.72 L536.26,461.98 L536.63,462.24 L537,462.51 L537.37,462.78 L537.75,463.06 L538.12,463.34 L538.49,463.63 L538.86,463.93 L539.23,464.23 L539.6,464.53 L539.97,464.85 L540.34,465.16 L540.71,465.49 L541.08,465.82 L541.45,466.16 L541.82,466.5 L542.19,466.85 L542.56,467.21 L542.93,467.57 L543.3,467.93 L543.68,468.31 L544.05,468.68 L544.42,469.06 L544.79,469.45 L545.16,469.84 L545.53,470.23 L545.9,470.63 L546.27,471.03 L546.64,471.43 L547.01,471.83 L547.38,472.24 L547.75,472.65 L548.12,473.06 L548.49,473.46 L548.86,473.87 L549.23,474.28 L549.61,474.68 L549.98,475.09 L550.35,475.49 L550.72,475.88 L551.09,476.27 L551.46,476.66 L551.83,477.04 L552.2,477.41 L552.57,477.78 L552.94,478.15 L553.31,478.51 L553.68,478.86 L554.05,479.21 L554.42,479.56 L554.79,479.91 L555.16,480.25 L555.54,480.59 L555.91,480.93 L556.28,481.27 L556.65,481.6 L557.02,481.94 L557.39,482.28 L557.76,482.62 L558.13,482.96 L558.5,483.3 L558.87,483.65 L559.24,484 L559.61,484.36 L559.98,484.72 L560.35,485.1 L560.72,485.47 L561.09,485.86 L561.47,486.26 L561.84,486.67 L562.21,487.1 L562.58,487.53 L562.95,487.99 L563.32,488.46 L563.69,488.95 L564.06,489.46 L564.43,489.99 L564.8,490.55 L565.17,491.13 L565.54,491.74 L565.91,492.37 L566.28,493.02 L566.65,493.7 L567.02,494.4 L567.39,495.13 L567.77,495.87 L568.14,496.64 L568.51,497.44 L568.88,498.25 L569.25,499.09 L569.62,499.95 L569.99,500.83 L570.36,501.73 L570.73,502.64 L571.1,503.57 L571.47,504.52 L571.84,505.48 L572.21,506.46 L572.58,507.44 L572.95,508.42 L573.32,509.42 L573.7,510.44 L574.07,511.5 L574.44,512.61 L574.81,513.79 L575.05,514.6 L575.12,514.86 L575.18,515.06 L575.2,515.12 L575.27,515.39 L575.34,515.66 L575.42,515.94 L575.49,516.22 L575.55,516.44 L575.57,516.51 L575.64,516.81 L575.71,517.11 L575.79,517.42 L575.86,517.73 L575.92,517.98 L575.94,518.05 L576.01,518.38 L576.08,518.72 L576.16,519.06 L576.23,519.41 L576.29,519.7 L576.31,519.78 L576.38,520.15 L576.45,520.53 L576.53,520.92 L576.6,521.32 L576.66,521.65 L576.68,521.74 L576.75,522.16 L576.82,522.6 L576.9,523.06 L576.97,523.52 L577.03,523.9 L577.05,524 L577.12,524.5 L577.19,525.01 L577.27,525.54 L577.34,526.09 L577.4,526.54 L577.42,526.66 L577.49,527.24 L577.56,527.85 L577.64,528.48 L577.71,529.14 L577.77,529.7 L577.79,529.82 L577.86,530.53 L577.93,531.27 L578.01,532.05 L578.08,532.85 L578.14,533.54 L578.16,533.69 L578.23,534.56 L578.3,535.48 L578.38,536.43 L578.45,537.43 L578.51,538.29 L578.53,538.47 L578.6,539.57 L578.67,540.71 L578.75,541.91 L578.82,543.18 L578.88,544.28 L578.9,544.5 L578.97,545.89 L579.04,547.35 L579.12,548.89 L579.19,550.5 L579.25,551.92 L579.27,552.18 L579.34,553.94 L579.41,555.76 L579.49,557.62 L579.56,559.51 L579.63,561.11 L579.64,561.37 L579.71,563.14 L579.78,564.73 L579.86,566.01 L579.93,566.87 L580,567.19 L580.01,567.21 L580.08,566.97 L580.15,566.19 L580.23,564.96 L580.3,563.39 L580.37,561.84 L580.38,561.61 L580.45,559.71 L580.52,557.77 L580.6,555.83 L580.67,553.94 L580.74,552.32 L580.75,552.11 L580.82,550.35 L580.89,548.66 L580.97,547.05 L581.04,545.51 L581.11,544.2 L581.12,544.04 L581.19,542.64 L581.26,541.3 L581.34,540.02 L581.41,538.8 L581.48,537.75 L581.49,537.64 L581.56,536.52 L581.63,535.45 L581.71,534.42 L581.78,533.43 L581.85,532.57 L581.86,532.49 L581.93,531.58 L582,530.7 L582.08,529.86 L582.15,529.04 L582.22,528.32 L582.23,528.26 L582.3,527.5 L582.37,526.77 L582.45,526.06 L582.52,525.37 L582.59,524.76 L582.6,524.71 L582.67,524.06 L582.74,523.44 L582.82,522.83 L582.89,522.24 L582.96,521.7 L582.97,521.66 L583.04,521.1 L583.11,520.56 L583.19,520.03 L583.26,519.51 L583.33,519.03 L583.34,519 L583.41,518.51 L583.48,518.03 L583.56,517.55 L583.63,517.09 L583.7,516.67 L583.71,516.64 L583.78,516.2 L583.85,515.77 L583.93,515.35 L584.07,514.54 L584.44,512.61 L584.81,510.84 L585.18,509.21 L585.56,507.68 L585.93,506.24 L586.3,504.88 L586.67,503.59 L587.04,502.36 L587.41,501.18 L587.78,500.05 L588.15,498.97 L588.52,497.94 L588.89,496.94 L589.26,495.98 L589.63,495.05 L590,494.16 L590.37,493.3 L590.74,492.47 L591.11,491.66 L591.49,490.88 L591.86,490.13 L592.23,489.4 L592.6,488.69 L592.97,488 L593.34,487.33 L593.71,486.68 L594.08,486.05 L594.45,485.43 L594.82,484.84 L595.19,484.25 L595.56,483.69 L595.93,483.14 L596.3,482.6 L596.67,482.07 L597.04,481.56 L597.42,481.06 L597.79,480.57 L598.16,480.1 L598.53,479.63 L598.9,479.18 L599.27,478.73 L599.64,478.29 L600.01,477.87 L600.38,477.45 L600.75,477.04 L601.12,476.64 L601.49,476.25 L601.86,475.87 L602.23,475.49 L602.6,475.12 L602.97,474.76 L603.34,474.41 L603.72,474.06 L604.09,473.72 L604.46,473.39 L604.83,473.06 L605.2,472.74 L605.57,472.42 L605.94,472.11 L606.31,471.81 L606.68,471.51 L607.05,471.21 L607.42,470.93 L607.79,470.64 L608.16,470.36 L608.53,470.09 L608.9,469.82 L609.27,469.56 L609.65,469.3 L610.02,469.05 L610.39,468.8 L610.76,468.55 L611.13,468.31 L611.5,468.07 L611.87,467.84 L612.24,467.61 L612.61,467.38 L612.98,467.16 L613.35,466.95 L613.72,466.73 L614.09,466.52 L614.46,466.32 L614.83,466.11 L615.2,465.91 L615.58,465.72 L615.95,465.52 L616.32,465.33 L616.69,465.15 L617.06,464.97 L617.43,464.79 L617.8,464.61 L618.17,464.44 L618.54,464.27 L618.91,464.1 L619.28,463.93 L619.65,463.77 L620.02,463.61 L620.39,463.46 L620.76,463.3 L621.13,463.15 L621.51,463.01 L621.88,462.86 L622.25,462.72 L622.62,462.58 L622.99,462.44 L623.36,462.31 L623.73,462.18 L624.1,462.05 L624.47,461.92 L624.84,461.8 L625.21,461.68 L625.58,461.56 L625.95,461.44 L626.32,461.33 L626.69,461.22 L627.06,461.11 L627.44,461 L627.81,460.9 L628.18,460.8 L628.55,460.7 L628.92,460.6 L629.29,460.51 L629.66,460.41 L630.03,460.32 L630.4,460.23" stroke="#111" stroke-width="1.5" fill="none" stroke-dasharray="3.6,1.3,1.2,1.3"/>
</g>
<path d="M103.8,326.6 H123" stroke="#111" stroke-width="2"/>
<text x="127.8" y="329.7" font-size="9.7" text-anchor="start" fill="#1a1a1a" textLength="84.6" lengthAdjust="spacingAndGlyphs" stroke="#1a1a1a" stroke-width="0.12" style="">CML-BSPML(0.5mm)</text>
<path d="M103.8,337.6 H123" stroke="#f02020" stroke-width="1.7" stroke-dasharray="4,2.6"/>
<text x="126.1" y="340.7" font-size="9.7" text-anchor="start" fill="#1a1a1a" textLength="84.9" lengthAdjust="spacingAndGlyphs" stroke="#1a1a1a" stroke-width="0.12" style="">CML-BSPML(1.0mm)</text>
<path d="M103.8,349.4 H122.4" stroke="#1a1ae6" stroke-width="1.5" stroke-dasharray="1.2,0.9"/>
<text x="126.1" y="352.5" font-size="9.7" text-anchor="start" fill="#1a1a1a" textLength="41.5" lengthAdjust="spacingAndGlyphs" stroke="#1a1a1a" stroke-width="0.12" style="">CML-CML</text>
<path d="M519.9,298.7 H540.4" stroke="#111" stroke-width="2"/>
<text x="543.4" y="301.8" font-size="9.7" text-anchor="start" fill="#1a1a1a" textLength="85.9" lengthAdjust="spacingAndGlyphs" stroke="#1a1a1a" stroke-width="0.12" style="">CML-BSPML(0.5mm)</text>
<path d="M519.9,310.8 H540.4" stroke="#f02020" stroke-width="1.9" stroke-dasharray="4,2.6"/>
<text x="543.4" y="313.9" font-size="9.7" text-anchor="start" fill="#1a1a1a" textLength="85.9" lengthAdjust="spacingAndGlyphs" stroke="#1a1a1a" stroke-width="0.12" style="">CML-BSPML(1.0mm)</text>
<path d="M519.9,321.8 H540.4" stroke="#1a1ae6" stroke-width="1.7" stroke-dasharray="1.3,0.8"/>
<text x="543.4" y="324.9" font-size="9.7" text-anchor="start" fill="#1a1a1a" textLength="43.8" lengthAdjust="spacingAndGlyphs" stroke="#1a1a1a" stroke-width="0.12" style="">CML-CML</text>
<path d="M97.9,549.6 H119.3" stroke="#ee1c1c" stroke-width="1.8"/>
<text x="121.4" y="552.7" font-size="9.7" text-anchor="start" fill="#1a1a1a" textLength="86.2" lengthAdjust="spacingAndGlyphs" stroke="#1a1a1a" stroke-width="0.12" style="">CML-BSPML(0.5mm)</text>
<path d="M97.9,561.2 H119.3" stroke="#1c1ce6" stroke-width="1.8"/>
<text x="121.4" y="564.3" font-size="9.7" text-anchor="start" fill="#1a1a1a" textLength="86.2" lengthAdjust="spacingAndGlyphs" stroke="#1a1a1a" stroke-width="0.12" style="">CML-BSPML(1.0mm)</text>
<path d="M97.9,572.6 H119.3" stroke="#22dd22" stroke-width="1.8"/>
<text x="121.4" y="575.7" font-size="9.7" text-anchor="start" fill="#1a1a1a" textLength="43.8" lengthAdjust="spacingAndGlyphs" stroke="#1a1a1a" stroke-width="0.12" style="">CML-CML</text>
<path d="M97.9,583.6 H119.3" stroke="#111" stroke-width="1.6" stroke-dasharray="4,1.3,1.2,1.3"/>
<text x="121.4" y="586.7" font-size="9.7" text-anchor="start" fill="#1a1a1a" textLength="49.1" lengthAdjust="spacingAndGlyphs" stroke="#1a1a1a" stroke-width="0.12" style="">circuit model</text>
<path d="M415.2,547.4 H434.8" stroke="#ee1c1c" stroke-width="1.8"/>
<text x="439.6" y="550.5" font-size="9.7" text-anchor="start" fill="#1a1a1a" textLength="84.9" lengthAdjust="spacingAndGlyphs" stroke="#1a1a1a" stroke-width="0.12" style="">CML-BSPML(0.5mm)</text>
<path d="M415.2,558.6 H434.8" stroke="#1c1ce6" stroke-width="1.8"/>
<text x="436.9" y="561.7" font-size="9.7" text-anchor="start" fill="#1a1a1a" textLength="85.5" lengthAdjust="spacingAndGlyphs" stroke="#1a1a1a" stroke-width="0.12" style="">CML-BSPML(1.0mm)</text>
<path d="M415.2,570.1 H434.8" stroke="#22dd22" stroke-width="1.8"/>
<text x="436.9" y="573.2" font-size="9.7" text-anchor="start" fill="#1a1a1a" textLength="43.5" lengthAdjust="spacingAndGlyphs" stroke="#1a1a1a" stroke-width="0.12" style="">CML-CML</text>
<path d="M415.2,581.7 H434.8" stroke="#111" stroke-width="1.6" stroke-dasharray="4,1.3,1.2,1.3"/>
<text x="436.9" y="584.8" font-size="9.7" text-anchor="start" fill="#1a1a1a" textLength="49.5" lengthAdjust="spacingAndGlyphs" stroke="#1a1a1a" stroke-width="0.12" style="">circuit model</text>
</svg>
</body></html>
